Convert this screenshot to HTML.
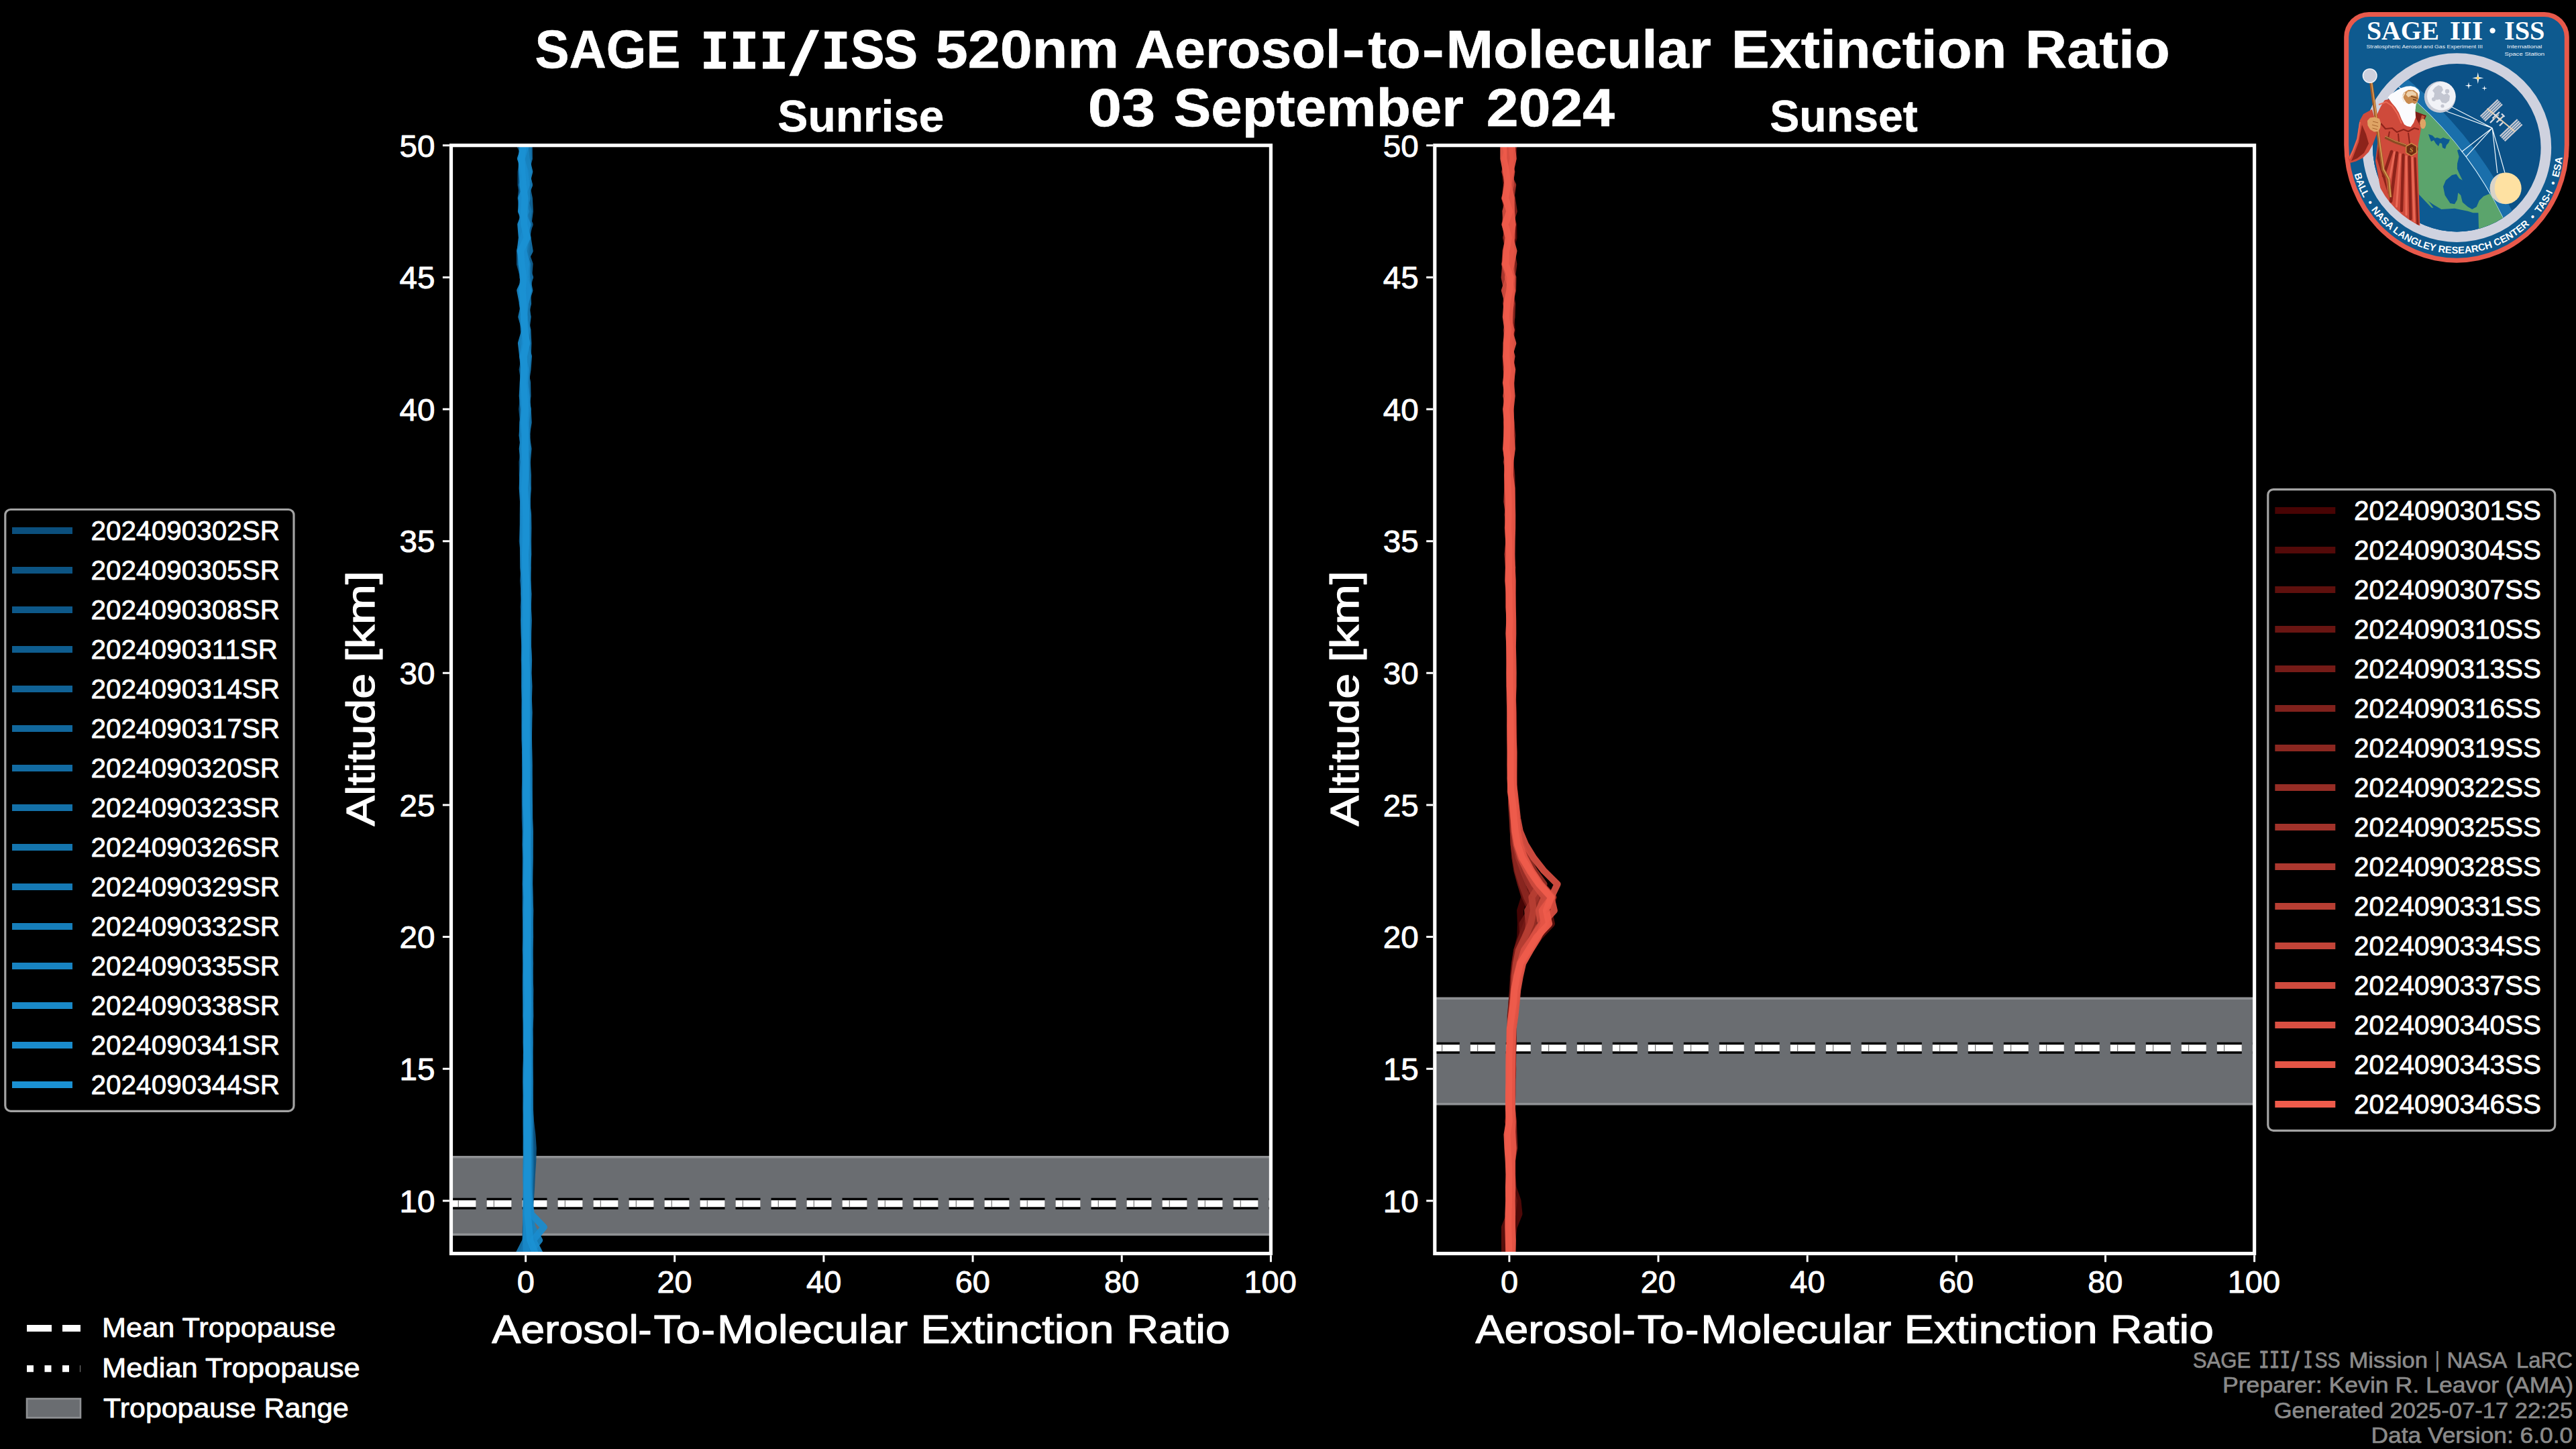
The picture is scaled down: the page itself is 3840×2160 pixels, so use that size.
<!DOCTYPE html>
<html lang="en"><head><meta charset="utf-8"><title>SAGE III/ISS 520nm Aerosol-to-Molecular Extinction Ratio</title>
<style>html,body{margin:0;padding:0;background:#000;width:3840px;height:2160px;overflow:hidden}svg{display:block}</style>
</head><body>
<svg width="3840" height="2160" viewBox="0 0 3840 2160">
<rect width="3840" height="2160" fill="#000"/>
<defs>
<clipPath id="c1"><rect x="672.5" y="216.7" width="1221.9" height="1651.9"/></clipPath>
<clipPath id="c2"><rect x="2138.8" y="216.7" width="1221.8" height="1651.9"/></clipPath>
</defs>
<g clip-path="url(#c1)">
<rect x="672.5" y="1724.8" width="1221.9" height="115.5" fill="#6a6d71"/>
<path d="M672.5 1724.8H1894.4M672.5 1840.3H1894.4" stroke="#8f9194" stroke-width="3.4" fill="none"/>
<path d="M672.5 1794.3H1894.4" stroke="#000" stroke-width="17" stroke-dasharray="37 16" fill="none"/>
<path d="M672.5 1794.3H1894.4" stroke="#fff" stroke-width="10" stroke-dasharray="37 16" fill="none"/>
<path d="M682.7 1794.3H1894.4" stroke="#777" stroke-width="10" stroke-dasharray="1.2 51.8" fill="none"/>
<g fill="none" stroke-width="10" stroke-linejoin="round" stroke-linecap="butt" stroke-opacity="0.93"><path d="M785.9 1868.6L785.0 1848.9L784.9 1829.3L785.1 1809.6L785.3 1789.9L785.6 1770.3L785.8 1750.6L785.6 1730.9L785.6 1711.3L786.1 1691.6L786.1 1671.9L786.3 1652.3L786.6 1632.6L786.1 1612.9L786.1 1593.3L786.2 1573.6L786.2 1554.0L785.4 1534.3L786.2 1514.6L786.1 1495.0L785.9 1475.3L785.8 1455.6L785.1 1436.0L785.2 1416.3L784.9 1396.6L785.6 1377.0L785.0 1357.3L784.9 1337.6L785.0 1318.0L785.0 1298.3L785.2 1278.6L784.7 1259.0L784.5 1239.3L784.7 1219.6L784.8 1200.0L785.1 1180.3L784.5 1160.6L785.5 1141.0L785.0 1121.3L784.3 1101.6L784.4 1082.0L784.4 1062.3L784.2 1042.7L783.6 1023.0L784.4 1003.3L784.5 983.7L783.8 964.0L783.7 944.3L782.8 924.7L782.8 905.0L782.9 885.3L782.8 865.7L783.9 846.0L782.2 826.3L781.9 806.7L784.3 787.0L783.2 767.3L781.7 747.7L782.8 728.0L780.9 708.3L782.6 688.7L784.4 669.0L783.7 649.3L783.0 629.7L781.2 610.0L781.5 590.3L780.5 570.7L782.9 551.0L781.8 531.3L783.3 511.7L780.5 492.0L779.6 472.4L783.4 452.7L786.6 433.0L785.1 413.4L784.5 393.7L784.7 374.0L783.8 354.4L778.3 334.7L781.7 315.0L780.1 295.4L776.5 275.7L776.6 256.0L779.3 236.4L779.3 216.7" stroke="#0b4f7d"/>
<path d="M789.0 1868.6L788.8 1848.9L789.6 1829.3L789.8 1809.6L790.7 1789.9L792.1 1770.3L793.0 1750.6L794.3 1730.9L794.8 1711.3L793.4 1691.6L791.1 1671.9L789.9 1652.3L789.3 1632.6L788.5 1612.9L788.8 1593.3L788.5 1573.6L789.0 1554.0L789.3 1534.3L789.5 1514.6L788.4 1495.0L788.8 1475.3L788.5 1455.6L788.0 1436.0L789.0 1416.3L788.9 1396.6L788.2 1377.0L789.0 1357.3L788.2 1337.6L788.3 1318.0L788.9 1298.3L788.4 1278.6L787.3 1259.0L787.8 1239.3L787.9 1219.6L787.7 1200.0L787.4 1180.3L787.3 1160.6L787.9 1141.0L787.0 1121.3L787.2 1101.6L786.8 1082.0L786.2 1062.3L786.4 1042.7L786.7 1023.0L786.5 1003.3L785.7 983.7L786.5 964.0L786.3 944.3L786.4 924.7L784.8 905.0L784.9 885.3L784.3 865.7L785.8 846.0L784.7 826.3L784.2 806.7L784.9 787.0L786.2 767.3L785.8 747.7L783.9 728.0L783.4 708.3L785.8 688.7L784.5 669.0L784.8 649.3L782.2 629.7L781.9 610.0L784.8 590.3L783.4 570.7L781.9 551.0L786.7 531.3L784.8 511.7L785.9 492.0L781.2 472.4L786.3 452.7L779.2 433.0L788.1 413.4L783.6 393.7L782.4 374.0L784.8 354.4L789.0 334.7L781.7 315.0L780.2 295.4L784.6 275.7L781.3 256.0L780.1 236.4L780.6 216.7" stroke="#0c5483"/>
<path d="M783.3 1848.9L783.8 1829.3L785.0 1809.6L786.0 1789.9L789.2 1770.3L791.1 1750.6L792.4 1730.9L792.3 1711.3L790.5 1691.6L788.0 1671.9L785.8 1652.3L785.7 1632.6L784.9 1612.9L784.8 1593.3L784.9 1573.6L784.9 1554.0L784.3 1534.3L784.9 1514.6L784.2 1495.0L783.8 1475.3L783.8 1455.6L784.4 1436.0L783.7 1416.3L784.1 1396.6L784.1 1377.0L783.6 1357.3L783.5 1337.6L783.6 1318.0L783.7 1298.3L783.7 1278.6L783.4 1259.0L783.4 1239.3L782.7 1219.6L782.7 1200.0L782.6 1180.3L783.2 1160.6L782.9 1141.0L783.2 1121.3L782.2 1101.6L782.2 1082.0L782.2 1062.3L782.6 1042.7L782.4 1023.0L782.3 1003.3L781.7 983.7L782.0 964.0L781.7 944.3L781.6 924.7L780.6 905.0L781.7 885.3L780.0 865.7L781.7 846.0L781.3 826.3L778.7 806.7L779.7 787.0L780.8 767.3L781.2 747.7L779.5 728.0L778.8 708.3L778.5 688.7L781.3 669.0L778.5 649.3L780.1 629.7L778.2 610.0L780.1 590.3L782.0 570.7L778.6 551.0L782.5 531.3L780.3 511.7L782.9 492.0L781.8 472.4L778.6 452.7L784.9 433.0L780.3 413.4L775.0 393.7L774.8 374.0L780.3 354.4L779.8 334.7L778.3 315.0L776.6 295.4L778.8 275.7L778.7 256.0L784.5 236.4L775.1 216.7" stroke="#0d5889"/>
<path d="M789.6 1868.6L789.2 1848.9L789.2 1829.3L789.3 1809.6L788.4 1789.9L788.2 1770.3L788.3 1750.6L788.7 1730.9L789.1 1711.3L789.1 1691.6L788.8 1671.9L788.8 1652.3L789.1 1632.6L788.9 1612.9L789.1 1593.3L788.8 1573.6L789.6 1554.0L789.0 1534.3L789.7 1514.6L789.3 1495.0L789.0 1475.3L788.8 1455.6L789.1 1436.0L789.6 1416.3L789.4 1396.6L788.5 1377.0L788.4 1357.3L788.7 1337.6L788.6 1318.0L788.2 1298.3L787.9 1278.6L788.2 1259.0L787.7 1239.3L787.8 1219.6L787.9 1200.0L788.2 1180.3L787.7 1160.6L787.9 1141.0L787.3 1121.3L786.7 1101.6L786.6 1082.0L787.4 1062.3L787.1 1042.7L786.5 1023.0L786.1 1003.3L786.5 983.7L786.6 964.0L786.1 944.3L785.6 924.7L786.0 905.0L786.4 885.3L784.9 865.7L784.3 846.0L784.9 826.3L784.8 806.7L785.6 787.0L784.2 767.3L785.7 747.7L785.3 728.0L784.4 708.3L783.3 688.7L786.1 669.0L783.4 649.3L785.5 629.7L783.2 610.0L783.1 590.3L785.6 570.7L783.5 551.0L787.5 531.3L784.3 511.7L782.2 492.0L782.3 472.4L783.6 452.7L786.0 433.0L789.4 413.4L780.7 393.7L783.6 374.0L781.3 354.4L789.7 334.7L780.6 315.0L779.6 295.4L779.6 275.7L783.4 256.0L789.0 236.4L788.8 216.7" stroke="#0e5d8f"/>
<path d="M785.8 1868.6L793.6 1848.9L788.6 1829.3L788.2 1809.6L788.5 1789.9L788.3 1770.3L788.5 1750.6L788.0 1730.9L788.3 1711.3L788.4 1691.6L788.3 1671.9L789.0 1652.3L788.7 1632.6L788.5 1612.9L788.8 1593.3L789.4 1573.6L788.6 1554.0L788.5 1534.3L788.8 1514.6L788.7 1495.0L789.2 1475.3L788.1 1455.6L788.3 1436.0L788.5 1416.3L788.5 1396.6L788.7 1377.0L787.7 1357.3L787.9 1337.6L787.9 1318.0L787.9 1298.3L788.5 1278.6L788.3 1259.0L788.6 1239.3L787.7 1219.6L788.1 1200.0L787.6 1180.3L787.4 1160.6L787.8 1141.0L787.8 1121.3L786.9 1101.6L787.3 1082.0L787.3 1062.3L786.6 1042.7L786.6 1023.0L786.1 1003.3L786.2 983.7L786.3 964.0L786.5 944.3L786.4 924.7L785.6 905.0L785.2 885.3L785.7 865.7L786.2 846.0L784.9 826.3L785.0 806.7L784.8 787.0L786.6 767.3L785.7 747.7L783.8 728.0L783.5 708.3L784.4 688.7L785.1 669.0L785.2 649.3L782.8 629.7L783.0 610.0L785.4 590.3L783.9 570.7L783.1 551.0L782.7 531.3L786.9 511.7L782.7 492.0L784.6 472.4L783.4 452.7L783.4 433.0L788.1 413.4L789.6 393.7L782.7 374.0L780.8 354.4L786.8 334.7L781.0 315.0L778.9 295.4L788.9 275.7L783.7 256.0L788.0 236.4L783.4 216.7" stroke="#106296"/>
<path d="M789.8 1868.6L789.0 1848.9L789.3 1829.3L789.9 1809.6L789.3 1789.9L790.2 1770.3L789.3 1750.6L789.9 1730.9L789.5 1711.3L790.1 1691.6L790.5 1671.9L789.6 1652.3L789.9 1632.6L790.1 1612.9L789.8 1593.3L789.6 1573.6L789.9 1554.0L789.6 1534.3L790.4 1514.6L790.1 1495.0L790.4 1475.3L789.5 1455.6L790.1 1436.0L789.3 1416.3L789.7 1396.6L789.7 1377.0L789.4 1357.3L789.7 1337.6L789.2 1318.0L789.0 1298.3L789.5 1278.6L788.6 1259.0L789.4 1239.3L788.9 1219.6L788.5 1200.0L788.6 1180.3L788.0 1160.6L788.7 1141.0L788.2 1121.3L787.8 1101.6L788.2 1082.0L787.8 1062.3L787.4 1042.7L787.9 1023.0L786.9 1003.3L787.8 983.7L787.0 964.0L787.2 944.3L787.7 924.7L786.9 905.0L787.1 885.3L786.1 865.7L785.3 846.0L785.2 826.3L785.4 806.7L786.4 787.0L785.8 767.3L785.8 747.7L786.8 728.0L784.0 708.3L784.1 688.7L785.7 669.0L783.0 649.3L782.7 629.7L784.3 610.0L783.0 590.3L784.1 570.7L783.6 551.0L785.5 531.3L785.4 511.7L782.9 492.0L785.8 472.4L785.0 452.7L781.1 433.0L790.1 413.4L782.6 393.7L781.7 374.0L781.2 354.4L787.3 334.7L789.9 315.0L788.9 295.4L784.8 275.7L783.5 256.0L780.6 236.4L787.8 216.7" stroke="#11679c"/>
<path d="M779.1 1868.6L785.8 1848.9L790.2 1829.3L788.0 1809.6L787.8 1789.9L787.7 1770.3L786.9 1750.6L786.9 1730.9L787.2 1711.3L787.1 1691.6L787.9 1671.9L787.9 1652.3L787.7 1632.6L787.7 1612.9L787.7 1593.3L787.4 1573.6L787.1 1554.0L787.0 1534.3L787.9 1514.6L787.3 1495.0L787.4 1475.3L787.5 1455.6L786.9 1436.0L787.2 1416.3L787.1 1396.6L787.5 1377.0L787.1 1357.3L786.8 1337.6L787.5 1318.0L787.0 1298.3L787.6 1278.6L787.2 1259.0L786.2 1239.3L786.6 1219.6L786.4 1200.0L786.7 1180.3L786.2 1160.6L786.6 1141.0L786.4 1121.3L786.2 1101.6L786.7 1082.0L785.8 1062.3L786.3 1042.7L785.3 1023.0L784.8 1003.3L785.1 983.7L785.7 964.0L785.9 944.3L784.3 924.7L785.1 905.0L785.0 885.3L785.4 865.7L783.9 846.0L784.6 826.3L784.0 806.7L785.4 787.0L783.9 767.3L786.0 747.7L783.7 728.0L783.3 708.3L784.9 688.7L784.1 669.0L782.3 649.3L784.6 629.7L782.2 610.0L785.1 590.3L784.7 570.7L784.9 551.0L784.5 531.3L782.5 511.7L782.6 492.0L782.4 472.4L785.7 452.7L778.4 433.0L787.2 413.4L777.4 393.7L779.2 374.0L780.0 354.4L787.2 334.7L782.8 315.0L781.6 295.4L787.0 275.7L779.9 256.0L782.5 236.4L783.5 216.7" stroke="#126ba2"/>
<path d="M789.1 1868.6L788.8 1848.9L789.0 1829.3L789.2 1809.6L788.8 1789.9L788.8 1770.3L789.3 1750.6L788.6 1730.9L789.1 1711.3L788.8 1691.6L789.1 1671.9L788.2 1652.3L789.1 1632.6L788.4 1612.9L788.0 1593.3L788.0 1573.6L788.3 1554.0L788.0 1534.3L788.4 1514.6L788.4 1495.0L788.5 1475.3L788.1 1455.6L788.3 1436.0L788.4 1416.3L789.0 1396.6L789.2 1377.0L788.7 1357.3L788.4 1337.6L789.0 1318.0L788.3 1298.3L788.0 1278.6L787.7 1259.0L788.2 1239.3L788.3 1219.6L788.1 1200.0L787.6 1180.3L787.6 1160.6L787.0 1141.0L787.6 1121.3L786.9 1101.6L787.0 1082.0L787.3 1062.3L787.4 1042.7L786.9 1023.0L786.8 1003.3L787.0 983.7L786.3 964.0L786.8 944.3L786.2 924.7L787.0 905.0L785.9 885.3L786.1 865.7L785.8 846.0L786.1 826.3L785.3 806.7L784.5 787.0L786.4 767.3L784.9 747.7L784.5 728.0L784.5 708.3L785.2 688.7L784.8 669.0L785.5 649.3L785.4 629.7L784.1 610.0L786.5 590.3L786.1 570.7L782.5 551.0L786.7 531.3L787.4 511.7L786.5 492.0L782.4 472.4L787.1 452.7L786.2 433.0L779.3 413.4L779.4 393.7L789.7 374.0L786.5 354.4L781.9 334.7L780.3 315.0L780.9 295.4L781.9 275.7L787.6 256.0L783.0 236.4L780.8 216.7" stroke="#1370a8"/>
<path d="M790.3 1848.9L790.9 1829.3L790.1 1809.6L790.0 1789.9L789.7 1770.3L790.4 1750.6L790.4 1730.9L790.1 1711.3L789.6 1691.6L790.1 1671.9L790.0 1652.3L789.7 1632.6L789.3 1612.9L789.4 1593.3L789.2 1573.6L789.2 1554.0L789.3 1534.3L789.6 1514.6L790.1 1495.0L789.2 1475.3L789.8 1455.6L789.2 1436.0L789.5 1416.3L790.1 1396.6L789.9 1377.0L790.3 1357.3L789.4 1337.6L789.1 1318.0L789.5 1298.3L789.8 1278.6L790.0 1259.0L790.0 1239.3L789.2 1219.6L789.1 1200.0L788.7 1180.3L788.9 1160.6L788.5 1141.0L788.3 1121.3L788.0 1101.6L788.1 1082.0L788.7 1062.3L787.9 1042.7L788.5 1023.0L787.6 1003.3L788.1 983.7L787.1 964.0L786.9 944.3L787.5 924.7L786.8 905.0L787.5 885.3L786.3 865.7L785.9 846.0L787.3 826.3L787.1 806.7L787.4 787.0L787.1 767.3L784.9 747.7L786.7 728.0L786.9 708.3L785.8 688.7L787.5 669.0L784.6 649.3L787.7 629.7L786.7 610.0L783.4 590.3L783.5 570.7L786.5 551.0L788.0 531.3L782.8 511.7L784.2 492.0L786.7 472.4L782.9 452.7L789.4 433.0L785.3 413.4L780.6 393.7L784.0 374.0L786.4 354.4L785.1 334.7L787.7 315.0L781.7 295.4L789.0 275.7L784.3 256.0L787.6 236.4L787.5 216.7" stroke="#1475ae"/>
<path d="M773.6 1868.6L783.6 1848.9L786.9 1829.3L786.8 1809.6L786.7 1789.9L786.7 1770.3L786.7 1750.6L787.4 1730.9L787.9 1711.3L787.4 1691.6L787.9 1671.9L787.9 1652.3L786.7 1632.6L787.0 1612.9L786.7 1593.3L786.3 1573.6L787.4 1554.0L786.7 1534.3L786.8 1514.6L787.0 1495.0L787.3 1475.3L787.0 1455.6L786.6 1436.0L786.5 1416.3L786.3 1396.6L787.4 1377.0L787.5 1357.3L786.8 1337.6L786.5 1318.0L786.5 1298.3L786.5 1278.6L787.2 1259.0L786.9 1239.3L786.7 1219.6L785.7 1200.0L786.3 1180.3L786.2 1160.6L785.9 1141.0L786.1 1121.3L784.8 1101.6L784.5 1082.0L785.2 1062.3L785.5 1042.7L785.1 1023.0L784.3 1003.3L784.7 983.7L784.8 964.0L783.7 944.3L783.9 924.7L783.7 905.0L783.3 885.3L783.9 865.7L783.2 846.0L783.3 826.3L782.7 806.7L783.8 787.0L781.6 767.3L783.8 747.7L781.9 728.0L781.1 708.3L784.2 688.7L781.4 669.0L783.9 649.3L783.5 629.7L783.8 610.0L780.4 590.3L781.6 570.7L780.2 551.0L785.0 531.3L784.5 511.7L783.0 492.0L781.8 472.4L781.1 452.7L785.6 433.0L781.6 413.4L783.5 393.7L778.4 374.0L779.1 354.4L777.3 334.7L784.7 315.0L783.0 295.4L778.3 275.7L786.6 256.0L779.9 236.4L781.7 216.7" stroke="#1579b4"/>
<path d="M785.5 1868.6L784.7 1848.9L784.5 1829.3L784.4 1809.6L784.6 1789.9L785.1 1770.3L784.5 1750.6L784.6 1730.9L785.7 1711.3L784.9 1691.6L784.7 1671.9L785.3 1652.3L785.1 1632.6L785.1 1612.9L785.3 1593.3L784.8 1573.6L785.5 1554.0L785.5 1534.3L784.7 1514.6L784.5 1495.0L784.6 1475.3L784.5 1455.6L784.4 1436.0L784.2 1416.3L784.3 1396.6L784.2 1377.0L784.6 1357.3L784.9 1337.6L783.8 1318.0L784.3 1298.3L784.5 1278.6L783.8 1259.0L784.5 1239.3L784.5 1219.6L783.5 1200.0L783.5 1180.3L783.9 1160.6L783.4 1141.0L782.9 1121.3L783.5 1101.6L783.2 1082.0L782.8 1062.3L782.7 1042.7L782.5 1023.0L782.3 1003.3L783.0 983.7L782.8 964.0L783.0 944.3L782.7 924.7L782.8 905.0L781.2 885.3L782.2 865.7L783.2 846.0L783.0 826.3L780.9 806.7L781.3 787.0L781.9 767.3L781.2 747.7L781.5 728.0L779.6 708.3L780.8 688.7L781.1 669.0L778.8 649.3L779.2 629.7L782.8 610.0L781.6 590.3L782.4 570.7L781.1 551.0L782.5 531.3L782.9 511.7L782.8 492.0L777.3 472.4L781.6 452.7L777.9 433.0L782.6 413.4L778.1 393.7L781.2 374.0L785.3 354.4L782.2 334.7L778.2 315.0L781.3 295.4L780.3 275.7L786.2 256.0L778.7 236.4L778.7 216.7" stroke="#167eba"/>
<path d="M787.5 1868.6L804.1 1848.9L793.6 1829.3L789.1 1809.6L787.3 1789.9L788.0 1770.3L788.1 1750.6L788.2 1730.9L787.6 1711.3L788.0 1691.6L788.6 1671.9L787.7 1652.3L787.8 1632.6L788.4 1612.9L788.3 1593.3L788.8 1573.6L788.5 1554.0L788.1 1534.3L788.5 1514.6L787.9 1495.0L787.7 1475.3L787.9 1455.6L787.6 1436.0L787.5 1416.3L787.7 1396.6L787.4 1377.0L787.9 1357.3L787.8 1337.6L787.6 1318.0L787.3 1298.3L787.5 1278.6L787.3 1259.0L787.4 1239.3L787.4 1219.6L787.6 1200.0L787.4 1180.3L786.8 1160.6L786.7 1141.0L786.6 1121.3L786.9 1101.6L786.1 1082.0L786.3 1062.3L786.3 1042.7L785.5 1023.0L785.6 1003.3L786.2 983.7L786.0 964.0L785.7 944.3L785.1 924.7L786.3 905.0L785.9 885.3L786.3 865.7L786.7 846.0L786.3 826.3L785.0 806.7L784.3 787.0L784.7 767.3L785.2 747.7L785.1 728.0L783.7 708.3L783.5 688.7L785.0 669.0L784.7 649.3L783.8 629.7L786.5 610.0L784.8 590.3L782.3 570.7L784.0 551.0L786.2 531.3L782.9 511.7L785.5 492.0L780.8 472.4L783.0 452.7L788.0 433.0L785.1 413.4L786.0 393.7L780.6 374.0L783.9 354.4L784.6 334.7L781.4 315.0L785.6 295.4L784.2 275.7L789.3 256.0L784.6 236.4L782.7 216.7" stroke="#1883c1"/>
<path d="M784.5 1868.6L784.3 1848.9L784.9 1829.3L784.1 1809.6L784.5 1789.9L784.6 1770.3L784.4 1750.6L784.9 1730.9L784.6 1711.3L784.7 1691.6L784.7 1671.9L784.4 1652.3L784.5 1632.6L784.2 1612.9L784.4 1593.3L785.1 1573.6L784.6 1554.0L785.0 1534.3L784.3 1514.6L784.8 1495.0L784.6 1475.3L784.7 1455.6L784.6 1436.0L784.5 1416.3L784.8 1396.6L784.6 1377.0L784.5 1357.3L785.0 1337.6L784.7 1318.0L784.6 1298.3L785.2 1278.6L785.2 1259.0L784.9 1239.3L784.6 1219.6L783.9 1200.0L783.8 1180.3L783.4 1160.6L784.0 1141.0L783.7 1121.3L783.0 1101.6L782.9 1082.0L783.0 1062.3L783.0 1042.7L782.4 1023.0L782.8 1003.3L782.2 983.7L782.4 964.0L781.6 944.3L781.1 924.7L782.1 905.0L781.9 885.3L781.8 865.7L780.2 846.0L780.0 826.3L779.9 806.7L779.8 787.0L779.8 767.3L780.0 747.7L778.7 728.0L779.4 708.3L780.5 688.7L778.7 669.0L781.2 649.3L780.1 629.7L780.7 610.0L778.7 590.3L779.7 570.7L781.0 551.0L779.2 531.3L776.9 511.7L782.5 492.0L782.1 472.4L779.1 452.7L775.3 433.0L784.6 413.4L781.9 393.7L775.5 374.0L777.8 354.4L776.2 334.7L783.7 315.0L777.1 295.4L785.2 275.7L783.4 256.0L775.9 236.4L782.6 216.7" stroke="#1988c7"/>
<path d="M804.7 1868.6L794.7 1848.9L810.8 1829.3L791.9 1809.6L789.1 1789.9L787.2 1770.3L787.2 1750.6L786.5 1730.9L786.6 1711.3L787.3 1691.6L786.5 1671.9L786.5 1652.3L786.8 1632.6L786.8 1612.9L787.2 1593.3L786.5 1573.6L786.1 1554.0L786.5 1534.3L786.6 1514.6L786.6 1495.0L786.5 1475.3L786.5 1455.6L786.5 1436.0L786.1 1416.3L786.0 1396.6L785.4 1377.0L785.4 1357.3L785.7 1337.6L785.3 1318.0L786.1 1298.3L785.4 1278.6L785.8 1259.0L786.2 1239.3L785.2 1219.6L785.1 1200.0L785.4 1180.3L785.0 1160.6L785.6 1141.0L784.7 1121.3L785.5 1101.6L785.5 1082.0L785.1 1062.3L784.7 1042.7L784.6 1023.0L784.7 1003.3L784.4 983.7L784.2 964.0L783.9 944.3L783.6 924.7L783.8 905.0L783.9 885.3L784.1 865.7L782.3 846.0L782.3 826.3L782.5 806.7L782.6 787.0L781.7 767.3L781.1 747.7L780.5 728.0L781.0 708.3L781.6 688.7L783.7 669.0L783.3 649.3L783.4 629.7L784.0 610.0L784.0 590.3L782.5 570.7L783.4 551.0L779.1 531.3L783.1 511.7L782.8 492.0L780.7 472.4L782.8 452.7L787.2 433.0L782.0 413.4L784.1 393.7L780.2 374.0L780.4 354.4L786.4 334.7L776.9 315.0L778.5 295.4L784.0 275.7L781.7 256.0L777.6 236.4L784.0 216.7" stroke="#1a8ccd"/>
<path d="M798.0 1868.6L790.2 1848.9L788.6 1829.3L786.5 1809.6L786.4 1789.9L785.5 1770.3L785.8 1750.6L786.5 1730.9L786.4 1711.3L786.1 1691.6L786.1 1671.9L785.6 1652.3L786.3 1632.6L785.9 1612.9L786.5 1593.3L786.2 1573.6L785.7 1554.0L786.0 1534.3L785.8 1514.6L786.7 1495.0L786.5 1475.3L785.7 1455.6L785.9 1436.0L786.2 1416.3L786.2 1396.6L786.6 1377.0L786.4 1357.3L786.3 1337.6L785.7 1318.0L786.3 1298.3L785.8 1278.6L785.4 1259.0L785.6 1239.3L785.8 1219.6L784.8 1200.0L784.6 1180.3L785.0 1160.6L784.6 1141.0L784.3 1121.3L784.6 1101.6L784.1 1082.0L784.6 1062.3L784.4 1042.7L785.0 1023.0L785.1 1003.3L783.8 983.7L784.5 964.0L784.6 944.3L784.9 924.7L784.8 905.0L784.5 885.3L784.3 865.7L783.4 846.0L783.1 826.3L784.3 806.7L784.5 787.0L784.4 767.3L783.5 747.7L782.1 728.0L783.5 708.3L783.5 688.7L782.3 669.0L782.8 649.3L781.5 629.7L782.4 610.0L781.7 590.3L780.1 570.7L781.3 551.0L780.8 531.3L785.3 511.7L781.7 492.0L780.9 472.4L780.2 452.7L778.8 433.0L780.2 413.4L777.6 393.7L776.2 374.0L785.8 354.4L781.2 334.7L781.2 315.0L782.5 295.4L779.6 275.7L778.3 256.0L777.4 236.4L780.0 216.7" stroke="#1b91d3"/></g>
</g>
<g clip-path="url(#c2)">
<rect x="2138.8" y="1488.3" width="1221.8" height="157.5" fill="#6a6d71"/>
<path d="M2138.8 1488.3H3360.6M2138.8 1645.8H3360.6" stroke="#8f9194" stroke-width="3.4" fill="none"/>
<path d="M2138.8 1562.2H3360.6" stroke="#000" stroke-width="17" stroke-dasharray="37 16" fill="none"/>
<path d="M2138.8 1562.2H3360.6" stroke="#fff" stroke-width="10" stroke-dasharray="37 16" fill="none"/>
<path d="M2149.0 1562.2H3360.6" stroke="#777" stroke-width="10" stroke-dasharray="1.2 51.8" fill="none"/>
<g fill="none" stroke-width="10" stroke-linejoin="round" stroke-linecap="butt" stroke-opacity="0.93"><path d="M2250.4 1868.6L2250.8 1848.9L2250.3 1829.3L2250.5 1809.6L2251.2 1789.9L2250.7 1770.3L2251.0 1750.6L2251.2 1730.9L2248.3 1711.3L2252.7 1691.6L2248.5 1671.9L2250.8 1652.3L2251.0 1632.6L2250.3 1612.9L2251.3 1593.3L2251.7 1573.6L2251.7 1554.0L2251.7 1534.3L2252.4 1514.6L2253.4 1495.0L2255.4 1475.3L2255.7 1455.6L2257.8 1436.0L2261.4 1416.3L2266.2 1396.6L2266.9 1377.0L2266.1 1357.3L2272.3 1337.6L2267.2 1318.0L2262.0 1298.3L2258.6 1278.6L2256.7 1259.0L2255.9 1239.3L2255.1 1219.6L2254.2 1200.0L2254.1 1180.3L2253.3 1160.6L2252.8 1141.0L2252.9 1121.3L2252.9 1101.6L2252.3 1082.0L2252.5 1062.3L2252.5 1042.7L2252.5 1023.0L2251.7 1003.3L2251.9 983.7L2252.0 964.0L2251.8 944.3L2251.1 924.7L2251.0 905.0L2250.9 885.3L2249.8 865.7L2249.1 846.0L2248.6 826.3L2250.3 806.7L2249.7 787.0L2250.3 767.3L2247.3 747.7L2248.8 728.0L2248.1 708.3L2248.9 688.7L2247.4 669.0L2249.9 649.3L2246.1 629.7L2248.1 610.0L2248.9 590.3L2249.6 570.7L2249.2 551.0L2249.5 531.3L2250.1 511.7L2251.0 492.0L2247.3 472.4L2249.5 452.7L2252.6 433.0L2252.4 413.4L2247.5 393.7L2251.7 374.0L2252.4 354.4L2249.3 334.7L2250.0 315.0L2247.3 295.4L2249.2 275.7L2249.4 256.0L2243.6 236.4L2249.6 216.7" stroke="#480404"/>
<path d="M2254.0 1868.6L2254.2 1848.9L2256.6 1829.3L2264.5 1809.6L2262.5 1789.9L2255.7 1770.3L2254.5 1750.6L2254.3 1730.9L2254.4 1711.3L2252.5 1691.6L2256.0 1671.9L2253.8 1652.3L2253.9 1632.6L2253.8 1612.9L2254.9 1593.3L2255.2 1573.6L2255.5 1554.0L2255.2 1534.3L2255.8 1514.6L2256.9 1495.0L2259.1 1475.3L2259.8 1455.6L2260.6 1436.0L2262.8 1416.3L2268.1 1396.6L2273.4 1377.0L2279.8 1357.3L2277.8 1337.6L2281.7 1318.0L2274.9 1298.3L2268.4 1278.6L2264.6 1259.0L2260.6 1239.3L2259.1 1219.6L2258.7 1200.0L2257.2 1180.3L2255.8 1160.6L2256.3 1141.0L2256.6 1121.3L2256.5 1101.6L2256.1 1082.0L2256.2 1062.3L2255.4 1042.7L2255.4 1023.0L2254.7 1003.3L2254.9 983.7L2254.8 964.0L2254.5 944.3L2255.0 924.7L2254.6 905.0L2254.3 885.3L2254.5 865.7L2253.7 846.0L2252.8 826.3L2252.4 806.7L2253.6 787.0L2253.6 767.3L2251.4 747.7L2252.9 728.0L2253.3 708.3L2251.6 688.7L2251.8 669.0L2250.4 649.3L2251.8 629.7L2251.9 610.0L2252.5 590.3L2250.0 570.7L2254.1 551.0L2252.0 531.3L2251.2 511.7L2253.9 492.0L2252.6 472.4L2252.0 452.7L2254.0 433.0L2247.3 413.4L2252.3 393.7L2250.9 374.0L2256.5 354.4L2256.2 334.7L2249.3 315.0L2251.6 295.4L2248.2 275.7L2251.4 256.0L2255.6 236.4L2256.5 216.7" stroke="#530a09"/>
<path d="M2243.1 1868.6L2243.0 1848.9L2243.0 1829.3L2250.8 1809.6L2250.4 1789.9L2250.2 1770.3L2250.3 1750.6L2250.3 1730.9L2252.6 1711.3L2252.5 1691.6L2252.2 1671.9L2250.8 1652.3L2250.3 1632.6L2251.0 1612.9L2251.5 1593.3L2251.6 1573.6L2252.1 1554.0L2252.5 1534.3L2255.0 1514.6L2258.4 1495.0L2259.8 1475.3L2263.3 1455.6L2269.1 1436.0L2281.2 1416.3L2294.6 1396.6L2313.0 1377.0L2308.8 1357.3L2315.8 1337.6L2298.0 1318.0L2283.5 1298.3L2271.7 1278.6L2264.5 1259.0L2260.6 1239.3L2258.7 1219.6L2256.5 1200.0L2254.0 1180.3L2253.5 1160.6L2253.7 1141.0L2253.7 1121.3L2253.6 1101.6L2252.5 1082.0L2252.6 1062.3L2252.3 1042.7L2251.7 1023.0L2251.9 1003.3L2251.4 983.7L2251.2 964.0L2251.3 944.3L2250.6 924.7L2250.6 905.0L2251.5 885.3L2250.7 865.7L2250.3 846.0L2251.0 826.3L2249.8 806.7L2250.9 787.0L2249.7 767.3L2249.9 747.7L2247.1 728.0L2248.6 708.3L2248.9 688.7L2246.3 669.0L2249.8 649.3L2246.9 629.7L2248.1 610.0L2246.8 590.3L2248.5 570.7L2249.1 551.0L2245.9 531.3L2251.4 511.7L2248.1 492.0L2248.9 472.4L2249.4 452.7L2247.5 433.0L2246.4 413.4L2250.2 393.7L2249.2 374.0L2246.3 354.4L2251.0 334.7L2246.5 315.0L2243.5 295.4L2245.7 275.7L2243.5 256.0L2244.8 236.4L2250.9 216.7" stroke="#5e100d"/>
<path d="M2251.1 1868.6L2250.3 1848.9L2250.6 1829.3L2254.6 1809.6L2256.8 1789.9L2252.1 1770.3L2251.0 1750.6L2250.9 1730.9L2248.5 1711.3L2251.7 1691.6L2248.1 1671.9L2250.7 1652.3L2250.5 1632.6L2251.0 1612.9L2251.3 1593.3L2251.6 1573.6L2251.2 1554.0L2253.0 1534.3L2253.9 1514.6L2255.3 1495.0L2257.1 1475.3L2260.5 1455.6L2266.4 1436.0L2272.0 1416.3L2270.3 1396.6L2269.5 1377.0L2282.0 1357.3L2273.4 1337.6L2266.8 1318.0L2261.4 1298.3L2258.3 1278.6L2256.9 1259.0L2255.7 1239.3L2255.1 1219.6L2253.3 1200.0L2252.8 1180.3L2253.3 1160.6L2253.4 1141.0L2253.0 1121.3L2252.5 1101.6L2252.9 1082.0L2252.5 1062.3L2252.2 1042.7L2252.4 1023.0L2251.7 1003.3L2251.6 983.7L2250.5 964.0L2250.8 944.3L2250.7 924.7L2249.3 905.0L2249.2 885.3L2250.1 865.7L2250.2 846.0L2247.9 826.3L2249.2 806.7L2247.7 787.0L2249.2 767.3L2248.8 747.7L2247.4 728.0L2247.0 708.3L2248.6 688.7L2247.9 669.0L2249.0 649.3L2247.6 629.7L2247.3 610.0L2249.9 590.3L2248.6 570.7L2247.9 551.0L2248.2 531.3L2249.5 511.7L2249.5 492.0L2250.6 472.4L2247.6 452.7L2251.8 433.0L2250.1 413.4L2252.1 393.7L2251.4 374.0L2251.7 354.4L2252.4 334.7L2253.1 315.0L2249.5 295.4L2248.3 275.7L2250.2 256.0L2251.1 236.4L2247.1 216.7" stroke="#691512"/>
<path d="M2249.7 1868.6L2250.1 1848.9L2250.1 1829.3L2250.1 1809.6L2249.7 1789.9L2250.2 1770.3L2249.8 1750.6L2250.0 1730.9L2252.6 1711.3L2251.0 1691.6L2248.7 1671.9L2250.1 1652.3L2249.8 1632.6L2250.5 1612.9L2250.5 1593.3L2250.4 1573.6L2251.8 1554.0L2251.8 1534.3L2251.6 1514.6L2253.5 1495.0L2255.0 1475.3L2256.4 1455.6L2258.3 1436.0L2261.2 1416.3L2268.3 1396.6L2275.7 1377.0L2282.4 1357.3L2280.1 1337.6L2287.4 1318.0L2277.7 1298.3L2269.4 1278.6L2263.6 1259.0L2259.3 1239.3L2257.5 1219.6L2255.9 1200.0L2255.4 1180.3L2253.0 1160.6L2252.9 1141.0L2252.8 1121.3L2253.3 1101.6L2253.0 1082.0L2252.0 1062.3L2252.0 1042.7L2252.3 1023.0L2252.0 1003.3L2251.1 983.7L2251.0 964.0L2250.6 944.3L2250.1 924.7L2250.2 905.0L2249.4 885.3L2250.8 865.7L2249.5 846.0L2249.6 826.3L2250.0 806.7L2250.1 787.0L2250.1 767.3L2248.4 747.7L2248.0 728.0L2247.9 708.3L2246.5 688.7L2248.0 669.0L2249.3 649.3L2250.4 629.7L2249.5 610.0L2249.0 590.3L2248.7 570.7L2246.0 551.0L2247.0 531.3L2247.2 511.7L2249.3 492.0L2245.9 472.4L2247.7 452.7L2248.6 433.0L2251.4 413.4L2251.8 393.7L2249.5 374.0L2244.9 354.4L2251.2 334.7L2252.8 315.0L2249.0 295.4L2246.9 275.7L2248.4 256.0L2244.5 236.4L2250.4 216.7" stroke="#751b17"/>
<path d="M2253.9 1868.6L2254.5 1848.9L2254.3 1829.3L2253.7 1809.6L2254.0 1789.9L2253.9 1770.3L2253.8 1750.6L2253.7 1730.9L2257.4 1711.3L2256.6 1691.6L2255.9 1671.9L2253.6 1652.3L2254.4 1632.6L2254.5 1612.9L2255.2 1593.3L2254.6 1573.6L2255.9 1554.0L2255.3 1534.3L2257.9 1514.6L2260.1 1495.0L2260.6 1475.3L2263.0 1455.6L2266.7 1436.0L2275.0 1416.3L2283.1 1396.6L2285.3 1377.0L2283.4 1357.3L2297.1 1337.6L2284.9 1318.0L2275.7 1298.3L2267.7 1278.6L2262.7 1259.0L2261.3 1239.3L2259.4 1219.6L2258.3 1200.0L2256.9 1180.3L2256.8 1160.6L2256.3 1141.0L2256.1 1121.3L2256.0 1101.6L2256.2 1082.0L2255.9 1062.3L2254.8 1042.7L2255.3 1023.0L2254.9 1003.3L2254.8 983.7L2254.2 964.0L2254.8 944.3L2254.7 924.7L2253.4 905.0L2253.9 885.3L2253.0 865.7L2254.4 846.0L2252.3 826.3L2252.1 806.7L2253.6 787.0L2252.3 767.3L2254.0 747.7L2253.8 728.0L2253.2 708.3L2251.1 688.7L2253.3 669.0L2254.3 649.3L2252.5 629.7L2250.8 610.0L2251.4 590.3L2251.9 570.7L2253.6 551.0L2250.8 531.3L2250.6 511.7L2251.0 492.0L2253.6 472.4L2254.2 452.7L2251.0 433.0L2254.0 413.4L2256.4 393.7L2253.3 374.0L2249.6 354.4L2250.3 334.7L2256.8 315.0L2253.9 295.4L2249.7 275.7L2253.5 256.0L2247.6 236.4L2257.0 216.7" stroke="#80211c"/>
<path d="M2250.6 1868.6L2249.7 1848.9L2250.1 1829.3L2250.3 1809.6L2250.2 1789.9L2249.9 1770.3L2250.0 1750.6L2250.9 1730.9L2252.2 1711.3L2249.1 1691.6L2249.2 1671.9L2250.7 1652.3L2251.3 1632.6L2250.9 1612.9L2251.4 1593.3L2252.3 1573.6L2252.1 1554.0L2253.3 1534.3L2255.4 1514.6L2256.9 1495.0L2258.3 1475.3L2261.5 1455.6L2268.2 1436.0L2275.3 1416.3L2282.6 1396.6L2280.9 1377.0L2285.7 1357.3L2275.9 1337.6L2268.9 1318.0L2262.7 1298.3L2259.4 1278.6L2256.6 1259.0L2255.8 1239.3L2254.5 1219.6L2253.2 1200.0L2252.9 1180.3L2252.7 1160.6L2252.8 1141.0L2253.1 1121.3L2252.9 1101.6L2252.9 1082.0L2253.1 1062.3L2252.3 1042.7L2252.1 1023.0L2251.2 1003.3L2251.2 983.7L2250.7 964.0L2251.0 944.3L2250.5 924.7L2250.1 905.0L2249.5 885.3L2249.5 865.7L2249.4 846.0L2249.4 826.3L2250.5 806.7L2249.8 787.0L2248.4 767.3L2248.3 747.7L2247.4 728.0L2249.8 708.3L2247.7 688.7L2249.0 669.0L2249.0 649.3L2249.6 629.7L2246.0 610.0L2247.1 590.3L2247.2 570.7L2245.9 551.0L2250.3 531.3L2246.9 511.7L2250.0 492.0L2248.3 472.4L2245.3 452.7L2246.9 433.0L2245.3 413.4L2243.3 393.7L2244.5 374.0L2249.0 354.4L2243.3 334.7L2246.5 315.0L2247.6 295.4L2248.8 275.7L2244.5 256.0L2250.3 236.4L2245.6 216.7" stroke="#8b2720"/>
<path d="M2251.8 1868.6L2251.5 1848.9L2251.9 1829.3L2252.2 1809.6L2252.2 1789.9L2252.4 1770.3L2252.3 1750.6L2252.7 1730.9L2251.9 1711.3L2254.3 1691.6L2253.5 1671.9L2252.5 1652.3L2252.8 1632.6L2253.6 1612.9L2253.9 1593.3L2253.5 1573.6L2254.1 1554.0L2254.2 1534.3L2254.4 1514.6L2256.4 1495.0L2258.4 1475.3L2260.2 1455.6L2262.4 1436.0L2266.3 1416.3L2275.7 1396.6L2285.6 1377.0L2292.0 1357.3L2289.9 1337.6L2301.5 1318.0L2287.2 1298.3L2276.1 1278.6L2267.5 1259.0L2262.5 1239.3L2259.0 1219.6L2258.0 1200.0L2256.9 1180.3L2254.3 1160.6L2254.1 1141.0L2254.8 1121.3L2254.5 1101.6L2253.5 1082.0L2253.3 1062.3L2253.4 1042.7L2253.5 1023.0L2253.1 1003.3L2253.3 983.7L2252.7 964.0L2252.9 944.3L2252.1 924.7L2251.7 905.0L2252.1 885.3L2252.3 865.7L2252.2 846.0L2251.4 826.3L2251.0 806.7L2251.5 787.0L2251.2 767.3L2251.7 747.7L2251.5 728.0L2249.0 708.3L2249.7 688.7L2251.0 669.0L2249.6 649.3L2249.4 629.7L2248.6 610.0L2250.9 590.3L2252.5 570.7L2252.5 551.0L2248.4 531.3L2252.0 511.7L2250.2 492.0L2251.6 472.4L2250.0 452.7L2255.1 433.0L2255.5 413.4L2245.5 393.7L2252.4 374.0L2246.2 354.4L2245.3 334.7L2247.8 315.0L2252.5 295.4L2255.2 275.7L2245.8 256.0L2247.9 236.4L2244.6 216.7" stroke="#962d25"/>
<path d="M2251.1 1868.6L2251.5 1848.9L2251.8 1829.3L2251.2 1809.6L2251.6 1789.9L2251.4 1770.3L2251.5 1750.6L2251.0 1730.9L2248.8 1711.3L2250.6 1691.6L2250.3 1671.9L2250.7 1652.3L2250.5 1632.6L2251.0 1612.9L2251.6 1593.3L2251.2 1573.6L2252.3 1554.0L2252.1 1534.3L2254.2 1514.6L2255.2 1495.0L2257.4 1475.3L2258.9 1455.6L2262.7 1436.0L2269.3 1416.3L2277.1 1396.6L2279.0 1377.0L2277.1 1357.3L2289.6 1337.6L2279.2 1318.0L2271.1 1298.3L2263.8 1278.6L2259.5 1259.0L2257.6 1239.3L2257.1 1219.6L2255.0 1200.0L2253.8 1180.3L2253.7 1160.6L2254.0 1141.0L2253.7 1121.3L2253.9 1101.6L2254.2 1082.0L2253.8 1062.3L2253.5 1042.7L2253.2 1023.0L2252.9 1003.3L2252.1 983.7L2252.7 964.0L2252.2 944.3L2251.5 924.7L2251.6 905.0L2251.1 885.3L2250.6 865.7L2249.9 846.0L2250.2 826.3L2249.8 806.7L2249.5 787.0L2247.7 767.3L2249.3 747.7L2248.8 728.0L2249.3 708.3L2249.2 688.7L2250.6 669.0L2247.8 649.3L2249.0 629.7L2251.4 610.0L2250.5 590.3L2248.7 570.7L2250.7 551.0L2252.6 531.3L2249.1 511.7L2252.0 492.0L2247.3 472.4L2252.6 452.7L2249.3 433.0L2246.6 413.4L2252.8 393.7L2250.7 374.0L2253.7 354.4L2252.5 334.7L2252.2 315.0L2249.1 295.4L2254.2 275.7L2244.3 256.0L2253.0 236.4L2251.1 216.7" stroke="#a1322a"/>
<path d="M2249.8 1868.6L2249.1 1848.9L2249.4 1829.3L2249.3 1809.6L2249.9 1789.9L2250.1 1770.3L2249.8 1750.6L2249.6 1730.9L2251.4 1711.3L2248.2 1691.6L2250.4 1671.9L2249.8 1652.3L2249.7 1632.6L2250.4 1612.9L2250.5 1593.3L2249.8 1573.6L2250.8 1554.0L2250.9 1534.3L2253.3 1514.6L2255.9 1495.0L2257.9 1475.3L2261.0 1455.6L2266.0 1436.0L2277.4 1416.3L2288.8 1396.6L2301.7 1377.0L2297.8 1357.3L2307.2 1337.6L2290.6 1318.0L2278.0 1298.3L2268.4 1278.6L2260.8 1259.0L2258.0 1239.3L2256.2 1219.6L2255.0 1200.0L2251.7 1180.3L2252.2 1160.6L2251.4 1141.0L2251.7 1121.3L2251.0 1101.6L2251.0 1082.0L2251.4 1062.3L2250.6 1042.7L2250.5 1023.0L2250.4 1003.3L2250.4 983.7L2250.3 964.0L2249.6 944.3L2250.1 924.7L2249.9 905.0L2249.7 885.3L2248.1 865.7L2248.8 846.0L2247.6 826.3L2249.4 806.7L2249.4 787.0L2249.1 767.3L2246.4 747.7L2247.2 728.0L2247.4 708.3L2247.2 688.7L2245.6 669.0L2248.3 649.3L2246.3 629.7L2247.4 610.0L2245.6 590.3L2247.6 570.7L2245.7 551.0L2244.7 531.3L2247.5 511.7L2246.1 492.0L2249.1 472.4L2245.8 452.7L2246.5 433.0L2242.6 413.4L2244.3 393.7L2246.8 374.0L2247.7 354.4L2246.9 334.7L2250.9 315.0L2243.0 295.4L2250.9 275.7L2243.4 256.0L2252.0 236.4L2247.1 216.7" stroke="#ac382f"/>
<path d="M2250.7 1868.6L2250.4 1848.9L2250.3 1829.3L2249.6 1809.6L2250.5 1789.9L2250.1 1770.3L2250.5 1750.6L2250.6 1730.9L2248.0 1711.3L2249.7 1691.6L2249.6 1671.9L2250.0 1652.3L2250.1 1632.6L2250.2 1612.9L2250.9 1593.3L2251.7 1573.6L2251.3 1554.0L2251.6 1534.3L2252.9 1514.6L2254.8 1495.0L2256.8 1475.3L2257.7 1455.6L2260.0 1436.0L2263.9 1416.3L2273.3 1396.6L2281.9 1377.0L2286.1 1357.3L2283.3 1337.6L2296.1 1318.0L2283.1 1298.3L2273.6 1278.6L2264.8 1259.0L2260.4 1239.3L2257.4 1219.6L2255.6 1200.0L2254.7 1180.3L2252.4 1160.6L2252.7 1141.0L2252.9 1121.3L2252.3 1101.6L2252.2 1082.0L2251.7 1062.3L2252.1 1042.7L2250.9 1023.0L2251.4 1003.3L2250.7 983.7L2250.7 964.0L2250.2 944.3L2250.3 924.7L2249.8 905.0L2249.9 885.3L2250.2 865.7L2249.8 846.0L2249.4 826.3L2249.6 806.7L2250.0 787.0L2248.6 767.3L2249.1 747.7L2248.5 728.0L2250.0 708.3L2247.4 688.7L2248.5 669.0L2246.7 649.3L2246.8 629.7L2248.8 610.0L2248.3 590.3L2246.9 570.7L2246.0 551.0L2250.0 531.3L2247.0 511.7L2249.3 492.0L2247.6 472.4L2248.8 452.7L2248.8 433.0L2253.3 413.4L2252.8 393.7L2248.0 374.0L2248.2 354.4L2245.5 334.7L2250.8 315.0L2244.1 295.4L2246.2 275.7L2252.2 256.0L2243.5 236.4L2250.2 216.7" stroke="#b73e33"/>
<path d="M2251.8 1868.6L2251.5 1848.9L2251.1 1829.3L2251.5 1809.6L2251.5 1789.9L2251.9 1770.3L2252.0 1750.6L2252.3 1730.9L2254.6 1711.3L2254.6 1691.6L2251.4 1671.9L2252.1 1652.3L2252.1 1632.6L2252.4 1612.9L2252.4 1593.3L2253.1 1573.6L2252.3 1554.0L2252.9 1534.3L2256.0 1514.6L2257.7 1495.0L2259.8 1475.3L2263.5 1455.6L2269.1 1436.0L2280.2 1416.3L2292.9 1396.6L2305.6 1377.0L2301.8 1357.3L2314.6 1337.6L2296.5 1318.0L2282.7 1298.3L2271.8 1278.6L2263.8 1259.0L2260.3 1239.3L2259.3 1219.6L2257.9 1200.0L2254.8 1180.3L2254.4 1160.6L2254.2 1141.0L2254.2 1121.3L2253.7 1101.6L2254.2 1082.0L2253.3 1062.3L2253.4 1042.7L2253.0 1023.0L2252.7 1003.3L2253.0 983.7L2252.5 964.0L2251.9 944.3L2252.4 924.7L2251.1 905.0L2251.0 885.3L2250.7 865.7L2251.1 846.0L2251.6 826.3L2250.2 806.7L2249.9 787.0L2250.7 767.3L2249.3 747.7L2249.6 728.0L2248.6 708.3L2250.5 688.7L2248.1 669.0L2248.2 649.3L2248.4 629.7L2248.4 610.0L2249.8 590.3L2249.6 570.7L2250.4 551.0L2249.3 531.3L2246.6 511.7L2251.0 492.0L2247.9 472.4L2247.4 452.7L2248.4 433.0L2254.2 413.4L2247.8 393.7L2247.6 374.0L2253.6 354.4L2254.5 334.7L2248.1 315.0L2245.3 295.4L2252.2 275.7L2251.8 256.0L2247.1 236.4L2251.8 216.7" stroke="#c24438"/>
<path d="M2250.5 1868.6L2250.6 1848.9L2250.7 1829.3L2249.9 1809.6L2250.4 1789.9L2250.7 1770.3L2250.1 1750.6L2250.2 1730.9L2249.2 1711.3L2248.7 1691.6L2249.7 1671.9L2250.3 1652.3L2251.1 1632.6L2251.1 1612.9L2251.5 1593.3L2251.6 1573.6L2252.3 1554.0L2251.9 1534.3L2254.4 1514.6L2256.1 1495.0L2258.2 1475.3L2260.5 1455.6L2265.3 1436.0L2275.2 1416.3L2285.3 1396.6L2296.8 1377.0L2293.9 1357.3L2302.1 1337.6L2287.3 1318.0L2276.3 1298.3L2266.7 1278.6L2260.9 1259.0L2257.5 1239.3L2256.8 1219.6L2254.6 1200.0L2252.8 1180.3L2252.9 1160.6L2252.6 1141.0L2253.4 1121.3L2252.6 1101.6L2252.2 1082.0L2252.2 1062.3L2252.2 1042.7L2251.6 1023.0L2251.3 1003.3L2251.0 983.7L2251.4 964.0L2251.1 944.3L2250.7 924.7L2250.0 905.0L2249.8 885.3L2250.9 865.7L2250.7 846.0L2251.0 826.3L2250.7 806.7L2249.8 787.0L2249.8 767.3L2249.1 747.7L2249.3 728.0L2249.0 708.3L2246.4 688.7L2248.6 669.0L2246.9 649.3L2246.5 629.7L2249.2 610.0L2245.5 590.3L2247.4 570.7L2246.6 551.0L2249.2 531.3L2248.0 511.7L2249.9 492.0L2250.0 472.4L2248.2 452.7L2242.9 433.0L2249.4 413.4L2243.3 393.7L2252.5 374.0L2251.4 354.4L2245.5 334.7L2244.3 315.0L2249.8 295.4L2250.5 275.7L2253.0 256.0L2249.4 236.4L2244.0 216.7" stroke="#ce4a3d"/>
<path d="M2252.5 1868.6L2253.0 1848.9L2252.8 1829.3L2252.7 1809.6L2252.1 1789.9L2252.8 1770.3L2252.2 1750.6L2251.9 1730.9L2249.5 1711.3L2251.1 1691.6L2250.0 1671.9L2252.6 1652.3L2252.8 1632.6L2252.7 1612.9L2253.2 1593.3L2253.5 1573.6L2254.4 1554.0L2253.8 1534.3L2254.3 1514.6L2257.4 1495.0L2261.2 1475.3L2262.8 1455.6L2266.1 1436.0L2272.0 1416.3L2285.8 1396.6L2298.8 1377.0L2316.9 1357.3L2312.3 1337.6L2321.6 1318.0L2301.7 1298.3L2286.2 1278.6L2274.1 1259.0L2265.8 1239.3L2262.0 1219.6L2259.8 1200.0L2257.6 1180.3L2254.6 1160.6L2254.2 1141.0L2254.4 1121.3L2254.6 1101.6L2254.0 1082.0L2253.7 1062.3L2253.9 1042.7L2253.8 1023.0L2253.7 1003.3L2253.2 983.7L2253.2 964.0L2253.1 944.3L2252.5 924.7L2253.2 905.0L2253.5 885.3L2252.8 865.7L2252.6 846.0L2252.0 826.3L2252.2 806.7L2250.9 787.0L2252.5 767.3L2251.6 747.7L2252.6 728.0L2250.5 708.3L2251.4 688.7L2248.7 669.0L2250.1 649.3L2251.4 629.7L2249.4 610.0L2250.8 590.3L2249.0 570.7L2249.9 551.0L2253.5 531.3L2248.3 511.7L2252.8 492.0L2247.5 472.4L2250.6 452.7L2253.6 433.0L2254.0 413.4L2249.4 393.7L2251.5 374.0L2252.5 354.4L2252.9 334.7L2252.9 315.0L2251.0 295.4L2247.4 275.7L2252.1 256.0L2250.6 236.4L2250.5 216.7" stroke="#d94f42"/>
<path d="M2254.5 1868.6L2254.9 1848.9L2254.0 1829.3L2254.1 1809.6L2253.8 1789.9L2254.4 1770.3L2253.9 1750.6L2254.0 1730.9L2255.7 1711.3L2254.1 1691.6L2254.8 1671.9L2254.0 1652.3L2253.9 1632.6L2253.9 1612.9L2254.3 1593.3L2254.6 1573.6L2254.7 1554.0L2255.5 1534.3L2258.4 1514.6L2260.5 1495.0L2262.3 1475.3L2265.8 1455.6L2270.3 1436.0L2281.5 1416.3L2293.3 1396.6L2301.7 1377.0L2298.7 1357.3L2313.0 1337.6L2296.1 1318.0L2283.0 1298.3L2272.4 1278.6L2265.4 1259.0L2261.9 1239.3L2260.5 1219.6L2258.8 1200.0L2256.1 1180.3L2256.1 1160.6L2256.4 1141.0L2256.5 1121.3L2255.7 1101.6L2255.3 1082.0L2255.1 1062.3L2254.8 1042.7L2255.5 1023.0L2255.7 1003.3L2255.4 983.7L2254.9 964.0L2255.3 944.3L2255.2 924.7L2254.8 905.0L2254.6 885.3L2254.7 865.7L2253.8 846.0L2253.5 826.3L2253.7 806.7L2254.2 787.0L2254.3 767.3L2253.9 747.7L2253.5 728.0L2250.9 708.3L2251.2 688.7L2253.9 669.0L2252.4 649.3L2252.3 629.7L2251.5 610.0L2253.7 590.3L2252.0 570.7L2254.2 551.0L2249.4 531.3L2255.3 511.7L2249.3 492.0L2250.0 472.4L2251.5 452.7L2253.6 433.0L2248.1 413.4L2252.6 393.7L2256.5 374.0L2251.0 354.4L2254.7 334.7L2252.9 315.0L2252.8 295.4L2248.5 275.7L2251.3 256.0L2255.7 236.4L2253.6 216.7" stroke="#e45546"/>
<path d="M2249.3 1868.6L2248.8 1848.9L2248.3 1829.3L2248.4 1809.6L2249.1 1789.9L2248.9 1770.3L2249.5 1750.6L2248.7 1730.9L2247.4 1711.3L2246.5 1691.6L2249.7 1671.9L2248.9 1652.3L2248.9 1632.6L2249.3 1612.9L2249.3 1593.3L2249.5 1573.6L2250.4 1554.0L2250.7 1534.3L2253.1 1514.6L2255.9 1495.0L2257.4 1475.3L2261.2 1455.6L2266.3 1436.0L2278.5 1416.3L2290.7 1396.6L2309.2 1377.0L2304.8 1357.3L2312.0 1337.6L2294.1 1318.0L2280.6 1298.3L2268.9 1278.6L2262.1 1259.0L2258.8 1239.3L2256.7 1219.6L2255.2 1200.0L2252.5 1180.3L2251.5 1160.6L2251.7 1141.0L2251.6 1121.3L2251.8 1101.6L2251.5 1082.0L2251.4 1062.3L2251.4 1042.7L2250.6 1023.0L2250.4 1003.3L2250.6 983.7L2250.3 964.0L2249.5 944.3L2250.3 924.7L2249.6 905.0L2249.8 885.3L2248.7 865.7L2249.0 846.0L2249.6 826.3L2249.1 806.7L2248.1 787.0L2248.6 767.3L2248.7 747.7L2247.9 728.0L2247.2 708.3L2248.2 688.7L2245.1 669.0L2246.2 649.3L2246.8 629.7L2245.1 610.0L2247.9 590.3L2244.9 570.7L2247.4 551.0L2245.3 531.3L2245.5 511.7L2247.5 492.0L2244.8 472.4L2246.3 452.7L2250.3 433.0L2251.8 413.4L2244.2 393.7L2245.4 374.0L2248.9 354.4L2243.6 334.7L2250.5 315.0L2243.8 295.4L2247.4 275.7L2245.2 256.0L2241.3 236.4L2241.3 216.7" stroke="#ef5b4b"/></g>
</g>
<rect x="672.5" y="216.7" width="1221.9" height="1651.9" fill="none" stroke="#fff" stroke-width="5.2"/>
<path d="M669.9 1789.9h-10M669.9 1593.3h-10M669.9 1396.6h-10M669.9 1200.0h-10M669.9 1003.3h-10M669.9 806.7h-10M669.9 610.0h-10M669.9 413.4h-10M669.9 216.7h-10M783.6 1871.2v10M1005.7 1871.2v10M1227.9 1871.2v10M1450.1 1871.2v10M1672.2 1871.2v10M1894.4 1871.2v10" stroke="#fff" stroke-width="3" fill="none"/>
<rect x="2138.8" y="216.7" width="1221.8" height="1651.9" fill="none" stroke="#fff" stroke-width="5.2"/>
<path d="M2136.2 1789.9h-10M2136.2 1593.3h-10M2136.2 1396.6h-10M2136.2 1200.0h-10M2136.2 1003.3h-10M2136.2 806.7h-10M2136.2 610.0h-10M2136.2 413.4h-10M2136.2 216.7h-10M2249.9 1871.2v10M2472.0 1871.2v10M2694.2 1871.2v10M2916.3 1871.2v10M3138.5 1871.2v10M3360.6 1871.2v10" stroke="#fff" stroke-width="3" fill="none"/>
<rect x="7.8" y="759.5" width="430.2" height="896.8" rx="8" ry="8" fill="#000" stroke="#a3a3a3" stroke-width="3.2"/>
<path d="M18 791H108" stroke="#0b4f7d" stroke-width="10"/>
<path d="M18 850H108" stroke="#0c5483" stroke-width="10"/>
<path d="M18 909H108" stroke="#0d5889" stroke-width="10"/>
<path d="M18 968H108" stroke="#0e5d8f" stroke-width="10"/>
<path d="M18 1027H108" stroke="#106296" stroke-width="10"/>
<path d="M18 1086H108" stroke="#11679c" stroke-width="10"/>
<path d="M18 1145H108" stroke="#126ba2" stroke-width="10"/>
<path d="M18 1204H108" stroke="#1370a8" stroke-width="10"/>
<path d="M18 1263H108" stroke="#1475ae" stroke-width="10"/>
<path d="M18 1322H108" stroke="#1579b4" stroke-width="10"/>
<path d="M18 1381H108" stroke="#167eba" stroke-width="10"/>
<path d="M18 1440H108" stroke="#1883c1" stroke-width="10"/>
<path d="M18 1499H108" stroke="#1988c7" stroke-width="10"/>
<path d="M18 1558H108" stroke="#1a8ccd" stroke-width="10"/>
<path d="M18 1617H108" stroke="#1b91d3" stroke-width="10"/>
<rect x="3380.8" y="729.6" width="427.9" height="955.7" rx="8" ry="8" fill="#000" stroke="#a3a3a3" stroke-width="3.2"/>
<path d="M3391.3 761H3481.3" stroke="#480404" stroke-width="10"/>
<path d="M3391.3 820H3481.3" stroke="#530a09" stroke-width="10"/>
<path d="M3391.3 879H3481.3" stroke="#5e100d" stroke-width="10"/>
<path d="M3391.3 938H3481.3" stroke="#691512" stroke-width="10"/>
<path d="M3391.3 997H3481.3" stroke="#751b17" stroke-width="10"/>
<path d="M3391.3 1056H3481.3" stroke="#80211c" stroke-width="10"/>
<path d="M3391.3 1115H3481.3" stroke="#8b2720" stroke-width="10"/>
<path d="M3391.3 1174H3481.3" stroke="#962d25" stroke-width="10"/>
<path d="M3391.3 1233H3481.3" stroke="#a1322a" stroke-width="10"/>
<path d="M3391.3 1292H3481.3" stroke="#ac382f" stroke-width="10"/>
<path d="M3391.3 1351H3481.3" stroke="#b73e33" stroke-width="10"/>
<path d="M3391.3 1410H3481.3" stroke="#c24438" stroke-width="10"/>
<path d="M3391.3 1469H3481.3" stroke="#ce4a3d" stroke-width="10"/>
<path d="M3391.3 1528H3481.3" stroke="#d94f42" stroke-width="10"/>
<path d="M3391.3 1587H3481.3" stroke="#e45546" stroke-width="10"/>
<path d="M3391.3 1646H3481.3" stroke="#ef5b4b" stroke-width="10"/>
<path d="M40 1980H120" stroke="#fff" stroke-width="10" stroke-dasharray="37 16" fill="none"/>
<path d="M40 2040.3H120" stroke="#fff" stroke-width="10" stroke-dasharray="10 16.5" fill="none"/>
<rect x="40" y="2085" width="80" height="28.4" fill="#6a6d71" stroke="#8f9194" stroke-width="2.6"/>
<text><tspan x="595.41" y="1806.74" textLength="52.96" lengthAdjust="spacingAndGlyphs" font-family="'Liberation Sans', sans-serif" font-size="46" font-weight="normal" fill="#fff" stroke="#fff" stroke-width="0.92" stroke-linejoin="round">10</tspan></text>
<text><tspan x="595.41" y="1610.08" textLength="52.96" lengthAdjust="spacingAndGlyphs" font-family="'Liberation Sans', sans-serif" font-size="46" font-weight="normal" fill="#fff" stroke="#fff" stroke-width="0.92" stroke-linejoin="round">15</tspan></text>
<text><tspan x="595.41" y="1413.43" textLength="52.96" lengthAdjust="spacingAndGlyphs" font-family="'Liberation Sans', sans-serif" font-size="46" font-weight="normal" fill="#fff" stroke="#fff" stroke-width="0.92" stroke-linejoin="round">20</tspan></text>
<text><tspan x="595.41" y="1216.77" textLength="52.96" lengthAdjust="spacingAndGlyphs" font-family="'Liberation Sans', sans-serif" font-size="46" font-weight="normal" fill="#fff" stroke="#fff" stroke-width="0.92" stroke-linejoin="round">25</tspan></text>
<text><tspan x="595.41" y="1020.12" textLength="52.96" lengthAdjust="spacingAndGlyphs" font-family="'Liberation Sans', sans-serif" font-size="46" font-weight="normal" fill="#fff" stroke="#fff" stroke-width="0.92" stroke-linejoin="round">30</tspan></text>
<text><tspan x="595.41" y="823.46" textLength="52.96" lengthAdjust="spacingAndGlyphs" font-family="'Liberation Sans', sans-serif" font-size="46" font-weight="normal" fill="#fff" stroke="#fff" stroke-width="0.92" stroke-linejoin="round">35</tspan></text>
<text><tspan x="595.41" y="626.81" textLength="52.96" lengthAdjust="spacingAndGlyphs" font-family="'Liberation Sans', sans-serif" font-size="46" font-weight="normal" fill="#fff" stroke="#fff" stroke-width="0.92" stroke-linejoin="round">40</tspan></text>
<text><tspan x="595.41" y="430.15" textLength="52.96" lengthAdjust="spacingAndGlyphs" font-family="'Liberation Sans', sans-serif" font-size="46" font-weight="normal" fill="#fff" stroke="#fff" stroke-width="0.92" stroke-linejoin="round">45</tspan></text>
<text><tspan x="595.41" y="233.50" textLength="52.96" lengthAdjust="spacingAndGlyphs" font-family="'Liberation Sans', sans-serif" font-size="46" font-weight="normal" fill="#fff" stroke="#fff" stroke-width="0.92" stroke-linejoin="round">50</tspan></text>
<text><tspan x="770.83" y="1926.90" textLength="26.09" lengthAdjust="spacingAndGlyphs" font-family="'Liberation Sans', sans-serif" font-size="46" font-weight="normal" fill="#fff" stroke="#fff" stroke-width="0.92" stroke-linejoin="round">0</tspan></text>
<text><tspan x="979.44" y="1926.90" textLength="52.19" lengthAdjust="spacingAndGlyphs" font-family="'Liberation Sans', sans-serif" font-size="46" font-weight="normal" fill="#fff" stroke="#fff" stroke-width="0.92" stroke-linejoin="round">20</tspan></text>
<text><tspan x="1202.11" y="1926.90" textLength="52.19" lengthAdjust="spacingAndGlyphs" font-family="'Liberation Sans', sans-serif" font-size="46" font-weight="normal" fill="#fff" stroke="#fff" stroke-width="0.92" stroke-linejoin="round">40</tspan></text>
<text><tspan x="1423.77" y="1926.90" textLength="52.19" lengthAdjust="spacingAndGlyphs" font-family="'Liberation Sans', sans-serif" font-size="46" font-weight="normal" fill="#fff" stroke="#fff" stroke-width="0.92" stroke-linejoin="round">60</tspan></text>
<text><tspan x="1645.93" y="1926.90" textLength="52.19" lengthAdjust="spacingAndGlyphs" font-family="'Liberation Sans', sans-serif" font-size="46" font-weight="normal" fill="#fff" stroke="#fff" stroke-width="0.92" stroke-linejoin="round">80</tspan></text>
<text><tspan x="1854.54" y="1926.90" textLength="78.28" lengthAdjust="spacingAndGlyphs" font-family="'Liberation Sans', sans-serif" font-size="46" font-weight="normal" fill="#fff" stroke="#fff" stroke-width="0.92" stroke-linejoin="round">100</tspan></text>
<text><tspan x="2061.71" y="1806.74" textLength="52.96" lengthAdjust="spacingAndGlyphs" font-family="'Liberation Sans', sans-serif" font-size="46" font-weight="normal" fill="#fff" stroke="#fff" stroke-width="0.92" stroke-linejoin="round">10</tspan></text>
<text><tspan x="2061.71" y="1610.08" textLength="52.96" lengthAdjust="spacingAndGlyphs" font-family="'Liberation Sans', sans-serif" font-size="46" font-weight="normal" fill="#fff" stroke="#fff" stroke-width="0.92" stroke-linejoin="round">15</tspan></text>
<text><tspan x="2061.71" y="1413.43" textLength="52.96" lengthAdjust="spacingAndGlyphs" font-family="'Liberation Sans', sans-serif" font-size="46" font-weight="normal" fill="#fff" stroke="#fff" stroke-width="0.92" stroke-linejoin="round">20</tspan></text>
<text><tspan x="2061.71" y="1216.77" textLength="52.96" lengthAdjust="spacingAndGlyphs" font-family="'Liberation Sans', sans-serif" font-size="46" font-weight="normal" fill="#fff" stroke="#fff" stroke-width="0.92" stroke-linejoin="round">25</tspan></text>
<text><tspan x="2061.71" y="1020.12" textLength="52.96" lengthAdjust="spacingAndGlyphs" font-family="'Liberation Sans', sans-serif" font-size="46" font-weight="normal" fill="#fff" stroke="#fff" stroke-width="0.92" stroke-linejoin="round">30</tspan></text>
<text><tspan x="2061.71" y="823.46" textLength="52.96" lengthAdjust="spacingAndGlyphs" font-family="'Liberation Sans', sans-serif" font-size="46" font-weight="normal" fill="#fff" stroke="#fff" stroke-width="0.92" stroke-linejoin="round">35</tspan></text>
<text><tspan x="2061.71" y="626.81" textLength="52.96" lengthAdjust="spacingAndGlyphs" font-family="'Liberation Sans', sans-serif" font-size="46" font-weight="normal" fill="#fff" stroke="#fff" stroke-width="0.92" stroke-linejoin="round">40</tspan></text>
<text><tspan x="2061.71" y="430.15" textLength="52.96" lengthAdjust="spacingAndGlyphs" font-family="'Liberation Sans', sans-serif" font-size="46" font-weight="normal" fill="#fff" stroke="#fff" stroke-width="0.92" stroke-linejoin="round">45</tspan></text>
<text><tspan x="2061.71" y="233.50" textLength="52.96" lengthAdjust="spacingAndGlyphs" font-family="'Liberation Sans', sans-serif" font-size="46" font-weight="normal" fill="#fff" stroke="#fff" stroke-width="0.92" stroke-linejoin="round">50</tspan></text>
<text><tspan x="2237.12" y="1926.90" textLength="26.09" lengthAdjust="spacingAndGlyphs" font-family="'Liberation Sans', sans-serif" font-size="46" font-weight="normal" fill="#fff" stroke="#fff" stroke-width="0.92" stroke-linejoin="round">0</tspan></text>
<text><tspan x="2445.71" y="1926.90" textLength="52.19" lengthAdjust="spacingAndGlyphs" font-family="'Liberation Sans', sans-serif" font-size="46" font-weight="normal" fill="#fff" stroke="#fff" stroke-width="0.92" stroke-linejoin="round">20</tspan></text>
<text><tspan x="2668.37" y="1926.90" textLength="52.19" lengthAdjust="spacingAndGlyphs" font-family="'Liberation Sans', sans-serif" font-size="46" font-weight="normal" fill="#fff" stroke="#fff" stroke-width="0.92" stroke-linejoin="round">40</tspan></text>
<text><tspan x="2890.00" y="1926.90" textLength="52.19" lengthAdjust="spacingAndGlyphs" font-family="'Liberation Sans', sans-serif" font-size="46" font-weight="normal" fill="#fff" stroke="#fff" stroke-width="0.92" stroke-linejoin="round">60</tspan></text>
<text><tspan x="3112.15" y="1926.90" textLength="52.19" lengthAdjust="spacingAndGlyphs" font-family="'Liberation Sans', sans-serif" font-size="46" font-weight="normal" fill="#fff" stroke="#fff" stroke-width="0.92" stroke-linejoin="round">80</tspan></text>
<text><tspan x="3320.74" y="1926.90" textLength="78.28" lengthAdjust="spacingAndGlyphs" font-family="'Liberation Sans', sans-serif" font-size="46" font-weight="normal" fill="#fff" stroke="#fff" stroke-width="0.92" stroke-linejoin="round">100</tspan></text>
<text><tspan x="135.58" y="805.10" textLength="281.36" lengthAdjust="spacingAndGlyphs" font-family="'Liberation Sans', sans-serif" font-size="40" font-weight="normal" fill="#fff" stroke="#fff" stroke-width="0.8" stroke-linejoin="round">2024090302SR</tspan></text>
<text><tspan x="135.58" y="864.10" textLength="281.36" lengthAdjust="spacingAndGlyphs" font-family="'Liberation Sans', sans-serif" font-size="40" font-weight="normal" fill="#fff" stroke="#fff" stroke-width="0.8" stroke-linejoin="round">2024090305SR</tspan></text>
<text><tspan x="135.58" y="923.10" textLength="281.36" lengthAdjust="spacingAndGlyphs" font-family="'Liberation Sans', sans-serif" font-size="40" font-weight="normal" fill="#fff" stroke="#fff" stroke-width="0.8" stroke-linejoin="round">2024090308SR</tspan></text>
<text><tspan x="135.58" y="982.10" textLength="278.36" lengthAdjust="spacingAndGlyphs" font-family="'Liberation Sans', sans-serif" font-size="40" font-weight="normal" fill="#fff" stroke="#fff" stroke-width="0.8" stroke-linejoin="round">2024090311SR</tspan></text>
<text><tspan x="135.58" y="1041.10" textLength="281.36" lengthAdjust="spacingAndGlyphs" font-family="'Liberation Sans', sans-serif" font-size="40" font-weight="normal" fill="#fff" stroke="#fff" stroke-width="0.8" stroke-linejoin="round">2024090314SR</tspan></text>
<text><tspan x="135.58" y="1100.10" textLength="281.36" lengthAdjust="spacingAndGlyphs" font-family="'Liberation Sans', sans-serif" font-size="40" font-weight="normal" fill="#fff" stroke="#fff" stroke-width="0.8" stroke-linejoin="round">2024090317SR</tspan></text>
<text><tspan x="135.58" y="1159.10" textLength="281.36" lengthAdjust="spacingAndGlyphs" font-family="'Liberation Sans', sans-serif" font-size="40" font-weight="normal" fill="#fff" stroke="#fff" stroke-width="0.8" stroke-linejoin="round">2024090320SR</tspan></text>
<text><tspan x="135.58" y="1218.10" textLength="281.36" lengthAdjust="spacingAndGlyphs" font-family="'Liberation Sans', sans-serif" font-size="40" font-weight="normal" fill="#fff" stroke="#fff" stroke-width="0.8" stroke-linejoin="round">2024090323SR</tspan></text>
<text><tspan x="135.58" y="1277.10" textLength="281.36" lengthAdjust="spacingAndGlyphs" font-family="'Liberation Sans', sans-serif" font-size="40" font-weight="normal" fill="#fff" stroke="#fff" stroke-width="0.8" stroke-linejoin="round">2024090326SR</tspan></text>
<text><tspan x="135.58" y="1336.10" textLength="281.36" lengthAdjust="spacingAndGlyphs" font-family="'Liberation Sans', sans-serif" font-size="40" font-weight="normal" fill="#fff" stroke="#fff" stroke-width="0.8" stroke-linejoin="round">2024090329SR</tspan></text>
<text><tspan x="135.58" y="1395.10" textLength="281.36" lengthAdjust="spacingAndGlyphs" font-family="'Liberation Sans', sans-serif" font-size="40" font-weight="normal" fill="#fff" stroke="#fff" stroke-width="0.8" stroke-linejoin="round">2024090332SR</tspan></text>
<text><tspan x="135.58" y="1454.10" textLength="281.36" lengthAdjust="spacingAndGlyphs" font-family="'Liberation Sans', sans-serif" font-size="40" font-weight="normal" fill="#fff" stroke="#fff" stroke-width="0.8" stroke-linejoin="round">2024090335SR</tspan></text>
<text><tspan x="135.58" y="1513.10" textLength="281.36" lengthAdjust="spacingAndGlyphs" font-family="'Liberation Sans', sans-serif" font-size="40" font-weight="normal" fill="#fff" stroke="#fff" stroke-width="0.8" stroke-linejoin="round">2024090338SR</tspan></text>
<text><tspan x="135.58" y="1572.10" textLength="281.36" lengthAdjust="spacingAndGlyphs" font-family="'Liberation Sans', sans-serif" font-size="40" font-weight="normal" fill="#fff" stroke="#fff" stroke-width="0.8" stroke-linejoin="round">2024090341SR</tspan></text>
<text><tspan x="135.58" y="1631.10" textLength="281.36" lengthAdjust="spacingAndGlyphs" font-family="'Liberation Sans', sans-serif" font-size="40" font-weight="normal" fill="#fff" stroke="#fff" stroke-width="0.8" stroke-linejoin="round">2024090344SR</tspan></text>
<text><tspan x="3508.88" y="775.10" textLength="279.13" lengthAdjust="spacingAndGlyphs" font-family="'Liberation Sans', sans-serif" font-size="40" font-weight="normal" fill="#fff" stroke="#fff" stroke-width="0.8" stroke-linejoin="round">2024090301SS</tspan></text>
<text><tspan x="3508.88" y="834.10" textLength="279.13" lengthAdjust="spacingAndGlyphs" font-family="'Liberation Sans', sans-serif" font-size="40" font-weight="normal" fill="#fff" stroke="#fff" stroke-width="0.8" stroke-linejoin="round">2024090304SS</tspan></text>
<text><tspan x="3508.88" y="893.10" textLength="279.13" lengthAdjust="spacingAndGlyphs" font-family="'Liberation Sans', sans-serif" font-size="40" font-weight="normal" fill="#fff" stroke="#fff" stroke-width="0.8" stroke-linejoin="round">2024090307SS</tspan></text>
<text><tspan x="3508.88" y="952.10" textLength="279.13" lengthAdjust="spacingAndGlyphs" font-family="'Liberation Sans', sans-serif" font-size="40" font-weight="normal" fill="#fff" stroke="#fff" stroke-width="0.8" stroke-linejoin="round">2024090310SS</tspan></text>
<text><tspan x="3508.88" y="1011.10" textLength="279.13" lengthAdjust="spacingAndGlyphs" font-family="'Liberation Sans', sans-serif" font-size="40" font-weight="normal" fill="#fff" stroke="#fff" stroke-width="0.8" stroke-linejoin="round">2024090313SS</tspan></text>
<text><tspan x="3508.88" y="1070.10" textLength="279.13" lengthAdjust="spacingAndGlyphs" font-family="'Liberation Sans', sans-serif" font-size="40" font-weight="normal" fill="#fff" stroke="#fff" stroke-width="0.8" stroke-linejoin="round">2024090316SS</tspan></text>
<text><tspan x="3508.88" y="1129.10" textLength="279.13" lengthAdjust="spacingAndGlyphs" font-family="'Liberation Sans', sans-serif" font-size="40" font-weight="normal" fill="#fff" stroke="#fff" stroke-width="0.8" stroke-linejoin="round">2024090319SS</tspan></text>
<text><tspan x="3508.88" y="1188.10" textLength="279.13" lengthAdjust="spacingAndGlyphs" font-family="'Liberation Sans', sans-serif" font-size="40" font-weight="normal" fill="#fff" stroke="#fff" stroke-width="0.8" stroke-linejoin="round">2024090322SS</tspan></text>
<text><tspan x="3508.88" y="1247.10" textLength="279.13" lengthAdjust="spacingAndGlyphs" font-family="'Liberation Sans', sans-serif" font-size="40" font-weight="normal" fill="#fff" stroke="#fff" stroke-width="0.8" stroke-linejoin="round">2024090325SS</tspan></text>
<text><tspan x="3508.88" y="1306.10" textLength="279.13" lengthAdjust="spacingAndGlyphs" font-family="'Liberation Sans', sans-serif" font-size="40" font-weight="normal" fill="#fff" stroke="#fff" stroke-width="0.8" stroke-linejoin="round">2024090328SS</tspan></text>
<text><tspan x="3508.88" y="1365.10" textLength="279.13" lengthAdjust="spacingAndGlyphs" font-family="'Liberation Sans', sans-serif" font-size="40" font-weight="normal" fill="#fff" stroke="#fff" stroke-width="0.8" stroke-linejoin="round">2024090331SS</tspan></text>
<text><tspan x="3508.88" y="1424.10" textLength="279.13" lengthAdjust="spacingAndGlyphs" font-family="'Liberation Sans', sans-serif" font-size="40" font-weight="normal" fill="#fff" stroke="#fff" stroke-width="0.8" stroke-linejoin="round">2024090334SS</tspan></text>
<text><tspan x="3508.88" y="1483.10" textLength="279.13" lengthAdjust="spacingAndGlyphs" font-family="'Liberation Sans', sans-serif" font-size="40" font-weight="normal" fill="#fff" stroke="#fff" stroke-width="0.8" stroke-linejoin="round">2024090337SS</tspan></text>
<text><tspan x="3508.88" y="1542.10" textLength="279.13" lengthAdjust="spacingAndGlyphs" font-family="'Liberation Sans', sans-serif" font-size="40" font-weight="normal" fill="#fff" stroke="#fff" stroke-width="0.8" stroke-linejoin="round">2024090340SS</tspan></text>
<text><tspan x="3508.88" y="1601.10" textLength="279.13" lengthAdjust="spacingAndGlyphs" font-family="'Liberation Sans', sans-serif" font-size="40" font-weight="normal" fill="#fff" stroke="#fff" stroke-width="0.8" stroke-linejoin="round">2024090343SS</tspan></text>
<text><tspan x="3508.88" y="1660.10" textLength="279.13" lengthAdjust="spacingAndGlyphs" font-family="'Liberation Sans', sans-serif" font-size="40" font-weight="normal" fill="#fff" stroke="#fff" stroke-width="0.8" stroke-linejoin="round">2024090346SS</tspan></text>
<text><tspan x="152.10" y="1993.40" textLength="348.42" lengthAdjust="spacingAndGlyphs" font-family="'Liberation Sans', sans-serif" font-size="40" font-weight="normal" fill="#fff" stroke="#fff" stroke-width="0.8" stroke-linejoin="round">Mean Tropopause</tspan></text>
<text><tspan x="152.08" y="2053.00" textLength="384.64" lengthAdjust="spacingAndGlyphs" font-family="'Liberation Sans', sans-serif" font-size="40" font-weight="normal" fill="#fff" stroke="#fff" stroke-width="0.8" stroke-linejoin="round">Median Tropopause</tspan></text>
<text><tspan x="154.13" y="2112.90" textLength="365.78" lengthAdjust="spacingAndGlyphs" font-family="'Liberation Sans', sans-serif" font-size="40" font-weight="normal" fill="#fff" stroke="#fff" stroke-width="0.8" stroke-linejoin="round">Tropopause Range</tspan></text>
<text><tspan x="797.59" y="101.40" textLength="216.76" lengthAdjust="spacingAndGlyphs" font-family="'Liberation Sans', sans-serif" font-size="80" font-weight="bold" fill="#fff" stroke="#fff" stroke-width="0.64" stroke-linejoin="round">SAGE</tspan> <tspan x="1043.79" y="101.60" textLength="131.49" lengthAdjust="spacingAndGlyphs" font-family="'DejaVu Sans Mono', monospace" font-size="75.5" font-weight="bold" fill="#fff" stroke="#fff" stroke-width="1.2" stroke-linejoin="round">III</tspan><tspan x="1177.01" y="112.30" textLength="43.53" lengthAdjust="spacingAndGlyphs" font-family="'Liberation Sans', sans-serif" font-size="92" font-weight="normal" fill="#fff" stroke="#fff" stroke-width="0.6" stroke-linejoin="round">/</tspan><tspan x="1223.75" y="101.60" textLength="44.16" lengthAdjust="spacingAndGlyphs" font-family="'DejaVu Sans Mono', monospace" font-size="75.5" font-weight="bold" fill="#fff" stroke="#fff" stroke-width="1.2" stroke-linejoin="round">I</tspan><tspan x="1268.38" y="101.40" textLength="99.37" lengthAdjust="spacingAndGlyphs" font-family="'Liberation Sans', sans-serif" font-size="80" font-weight="bold" fill="#fff" stroke="#fff" stroke-width="1.6" stroke-linejoin="round">SS</tspan> <tspan x="1394.89" y="101.40" textLength="273.22" lengthAdjust="spacingAndGlyphs" font-family="'Liberation Sans', sans-serif" font-size="80" font-weight="bold" fill="#fff" stroke="#fff" stroke-width="0.64" stroke-linejoin="round">520nm</tspan> <tspan x="1691.47" y="101.40" textLength="307.30" lengthAdjust="spacingAndGlyphs" font-family="'Liberation Sans', sans-serif" font-size="80" font-weight="bold" fill="#fff" stroke="#fff" stroke-width="0.64" stroke-linejoin="round">Aerosol</tspan><tspan x="2000.53" y="101.40" textLength="34.47" lengthAdjust="spacingAndGlyphs" font-family="'Liberation Sans', sans-serif" font-size="80" font-weight="bold" fill="#fff" stroke="#fff" stroke-width="0.64" stroke-linejoin="round">-</tspan><tspan x="2039.33" y="101.40" textLength="78.31" lengthAdjust="spacingAndGlyphs" font-family="'Liberation Sans', sans-serif" font-size="80" font-weight="bold" fill="#fff" stroke="#fff" stroke-width="0.64" stroke-linejoin="round">to</tspan><tspan x="2119.66" y="101.40" textLength="33.24" lengthAdjust="spacingAndGlyphs" font-family="'Liberation Sans', sans-serif" font-size="80" font-weight="bold" fill="#fff" stroke="#fff" stroke-width="0.64" stroke-linejoin="round">-</tspan><tspan x="2155.44" y="101.40" textLength="395.42" lengthAdjust="spacingAndGlyphs" font-family="'Liberation Sans', sans-serif" font-size="80" font-weight="bold" fill="#fff" stroke="#fff" stroke-width="0.64" stroke-linejoin="round">Molecular</tspan> <tspan x="2581.03" y="101.40" textLength="410.39" lengthAdjust="spacingAndGlyphs" font-family="'Liberation Sans', sans-serif" font-size="80" font-weight="bold" fill="#fff" stroke="#fff" stroke-width="0.64" stroke-linejoin="round">Extinction</tspan> <tspan x="3018.85" y="101.40" textLength="215.90" lengthAdjust="spacingAndGlyphs" font-family="'Liberation Sans', sans-serif" font-size="80" font-weight="bold" fill="#fff" stroke="#fff" stroke-width="0.64" stroke-linejoin="round">Ratio</tspan></text>
<text><tspan x="1621.67" y="188.00" textLength="100.58" lengthAdjust="spacingAndGlyphs" font-family="'Liberation Sans', sans-serif" font-size="80" font-weight="bold" fill="#fff" stroke="#fff" stroke-width="0.64" stroke-linejoin="round">03</tspan> <tspan x="1749.44" y="188.00" textLength="432.41" lengthAdjust="spacingAndGlyphs" font-family="'Liberation Sans', sans-serif" font-size="80" font-weight="bold" fill="#fff" stroke="#fff" stroke-width="0.64" stroke-linejoin="round">September</tspan> <tspan x="2215.89" y="188.00" textLength="191.22" lengthAdjust="spacingAndGlyphs" font-family="'Liberation Sans', sans-serif" font-size="80" font-weight="bold" fill="#fff" stroke="#fff" stroke-width="0.64" stroke-linejoin="round">2024</tspan></text>
<text><tspan x="1159.25" y="196.00" textLength="248.23" lengthAdjust="spacingAndGlyphs" font-family="'Liberation Sans', sans-serif" font-size="66" font-weight="bold" fill="#fff" stroke="#fff" stroke-width="0.53" stroke-linejoin="round">Sunrise</tspan></text>
<text><tspan x="2638.26" y="196.00" textLength="220.45" lengthAdjust="spacingAndGlyphs" font-family="'Liberation Sans', sans-serif" font-size="66" font-weight="bold" fill="#fff" stroke="#fff" stroke-width="0.53" stroke-linejoin="round">Sunset</tspan></text>
<text><tspan x="733.24" y="2002.00" textLength="218.49" lengthAdjust="spacingAndGlyphs" font-family="'Liberation Sans', sans-serif" font-size="60" font-weight="normal" fill="#fff" stroke="#fff" stroke-width="1.2" stroke-linejoin="round">Aerosol</tspan><tspan x="951.28" y="2002.00" textLength="20.33" lengthAdjust="spacingAndGlyphs" font-family="'Liberation Sans', sans-serif" font-size="60" font-weight="normal" fill="#fff" stroke="#fff" stroke-width="1.2" stroke-linejoin="round">-</tspan><tspan x="974.46" y="2002.00" textLength="69.89" lengthAdjust="spacingAndGlyphs" font-family="'Liberation Sans', sans-serif" font-size="60" font-weight="normal" fill="#fff" stroke="#fff" stroke-width="1.2" stroke-linejoin="round">To</tspan><tspan x="1045.58" y="2002.00" textLength="20.33" lengthAdjust="spacingAndGlyphs" font-family="'Liberation Sans', sans-serif" font-size="60" font-weight="normal" fill="#fff" stroke="#fff" stroke-width="1.2" stroke-linejoin="round">-</tspan><tspan x="1068.99" y="2002.00" textLength="284.13" lengthAdjust="spacingAndGlyphs" font-family="'Liberation Sans', sans-serif" font-size="60" font-weight="normal" fill="#fff" stroke="#fff" stroke-width="1.2" stroke-linejoin="round">Molecular</tspan> <tspan x="1372.23" y="2002.00" textLength="288.34" lengthAdjust="spacingAndGlyphs" font-family="'Liberation Sans', sans-serif" font-size="60" font-weight="normal" fill="#fff" stroke="#fff" stroke-width="1.2" stroke-linejoin="round">Extinction</tspan> <tspan x="1679.56" y="2002.00" textLength="154.09" lengthAdjust="spacingAndGlyphs" font-family="'Liberation Sans', sans-serif" font-size="60" font-weight="normal" fill="#fff" stroke="#fff" stroke-width="1.2" stroke-linejoin="round">Ratio</tspan></text>
<text transform="rotate(-90)"><tspan x="-1231.52" y="558.20" textLength="227.63" lengthAdjust="spacingAndGlyphs" font-family="'Liberation Sans', sans-serif" font-size="60" font-weight="normal" fill="#fff" stroke="#fff" stroke-width="1.2" stroke-linejoin="round">Altitude</tspan> <tspan x="-987.50" y="558.20" textLength="136.60" lengthAdjust="spacingAndGlyphs" font-family="'Liberation Sans', sans-serif" font-size="60" font-weight="normal" fill="#fff" stroke="#fff" stroke-width="1.2" stroke-linejoin="round">[km]</tspan></text>
<text><tspan x="2199.54" y="2002.00" textLength="218.49" lengthAdjust="spacingAndGlyphs" font-family="'Liberation Sans', sans-serif" font-size="60" font-weight="normal" fill="#fff" stroke="#fff" stroke-width="1.2" stroke-linejoin="round">Aerosol</tspan><tspan x="2417.58" y="2002.00" textLength="20.33" lengthAdjust="spacingAndGlyphs" font-family="'Liberation Sans', sans-serif" font-size="60" font-weight="normal" fill="#fff" stroke="#fff" stroke-width="1.2" stroke-linejoin="round">-</tspan><tspan x="2440.76" y="2002.00" textLength="69.89" lengthAdjust="spacingAndGlyphs" font-family="'Liberation Sans', sans-serif" font-size="60" font-weight="normal" fill="#fff" stroke="#fff" stroke-width="1.2" stroke-linejoin="round">To</tspan><tspan x="2511.88" y="2002.00" textLength="20.33" lengthAdjust="spacingAndGlyphs" font-family="'Liberation Sans', sans-serif" font-size="60" font-weight="normal" fill="#fff" stroke="#fff" stroke-width="1.2" stroke-linejoin="round">-</tspan><tspan x="2535.29" y="2002.00" textLength="284.13" lengthAdjust="spacingAndGlyphs" font-family="'Liberation Sans', sans-serif" font-size="60" font-weight="normal" fill="#fff" stroke="#fff" stroke-width="1.2" stroke-linejoin="round">Molecular</tspan> <tspan x="2838.53" y="2002.00" textLength="288.34" lengthAdjust="spacingAndGlyphs" font-family="'Liberation Sans', sans-serif" font-size="60" font-weight="normal" fill="#fff" stroke="#fff" stroke-width="1.2" stroke-linejoin="round">Extinction</tspan> <tspan x="3145.86" y="2002.00" textLength="154.09" lengthAdjust="spacingAndGlyphs" font-family="'Liberation Sans', sans-serif" font-size="60" font-weight="normal" fill="#fff" stroke="#fff" stroke-width="1.2" stroke-linejoin="round">Ratio</tspan></text>
<text transform="rotate(-90)"><tspan x="-1231.52" y="2024.50" textLength="227.63" lengthAdjust="spacingAndGlyphs" font-family="'Liberation Sans', sans-serif" font-size="60" font-weight="normal" fill="#fff" stroke="#fff" stroke-width="1.2" stroke-linejoin="round">Altitude</tspan> <tspan x="-987.50" y="2024.50" textLength="136.60" lengthAdjust="spacingAndGlyphs" font-family="'Liberation Sans', sans-serif" font-size="60" font-weight="normal" fill="#fff" stroke="#fff" stroke-width="1.2" stroke-linejoin="round">[km]</tspan></text>
<text><tspan x="3268.70" y="2038.90" textLength="86.51" lengthAdjust="spacingAndGlyphs" font-family="'Liberation Sans', sans-serif" font-size="34" font-weight="normal" fill="#8a8a8a" stroke="#8a8a8a" stroke-width="0.68" stroke-linejoin="round">SAGE</tspan> <tspan x="3366.94" y="2038.90" textLength="47.21" lengthAdjust="spacingAndGlyphs" font-family="'DejaVu Sans Mono', monospace" font-size="34" font-weight="normal" fill="#8a8a8a" stroke="#8a8a8a" stroke-width="0.9" stroke-linejoin="round">III</tspan><tspan x="3415.77" y="2044.00" textLength="12.21" lengthAdjust="spacingAndGlyphs" font-family="'Liberation Sans', sans-serif" font-size="41" font-weight="normal" fill="#8a8a8a" stroke="#8a8a8a" stroke-width="0.5" stroke-linejoin="round">/</tspan><tspan x="3433.54" y="2038.90" textLength="14.16" lengthAdjust="spacingAndGlyphs" font-family="'DejaVu Sans Mono', monospace" font-size="34" font-weight="normal" fill="#8a8a8a" stroke="#8a8a8a" stroke-width="0.9" stroke-linejoin="round">I</tspan><tspan x="3450.45" y="2038.90" textLength="38.14" lengthAdjust="spacingAndGlyphs" font-family="'Liberation Sans', sans-serif" font-size="34" font-weight="normal" fill="#8a8a8a" stroke="#8a8a8a" stroke-width="0.68" stroke-linejoin="round">SS</tspan> <tspan x="3501.51" y="2038.90" textLength="117.49" lengthAdjust="spacingAndGlyphs" font-family="'Liberation Sans', sans-serif" font-size="34" font-weight="normal" fill="#8a8a8a" stroke="#8a8a8a" stroke-width="0.68" stroke-linejoin="round">Mission</tspan> <tspan x="3629.30" y="2037.60" textLength="8.14" lengthAdjust="spacingAndGlyphs" font-family="'Liberation Sans', sans-serif" font-size="33" font-weight="normal" fill="#8a8a8a">|</tspan> <tspan x="3647.49" y="2038.90" textLength="89.87" lengthAdjust="spacingAndGlyphs" font-family="'Liberation Sans', sans-serif" font-size="34" font-weight="normal" fill="#8a8a8a" stroke="#8a8a8a" stroke-width="0.68" stroke-linejoin="round">NASA</tspan> <tspan x="3750.90" y="2038.90" textLength="84.01" lengthAdjust="spacingAndGlyphs" font-family="'Liberation Sans', sans-serif" font-size="34" font-weight="normal" fill="#8a8a8a" stroke="#8a8a8a" stroke-width="0.68" stroke-linejoin="round">LaRC</tspan></text>
<text><tspan x="3312.96" y="2076.20" textLength="523.07" lengthAdjust="spacingAndGlyphs" font-family="'Liberation Sans', sans-serif" font-size="34" font-weight="normal" fill="#8a8a8a" stroke="#8a8a8a" stroke-width="0.68" stroke-linejoin="round">Preparer: Kevin R. Leavor (AMA)</tspan></text>
<text><tspan x="3389.73" y="2113.60" textLength="445.45" lengthAdjust="spacingAndGlyphs" font-family="'Liberation Sans', sans-serif" font-size="34" font-weight="normal" fill="#8a8a8a" stroke="#8a8a8a" stroke-width="0.68" stroke-linejoin="round">Generated 2025-07-17 22:25</tspan></text>
<text><tspan x="3534.47" y="2150.60" textLength="300.82" lengthAdjust="spacingAndGlyphs" font-family="'Liberation Sans', sans-serif" font-size="34" font-weight="normal" fill="#8a8a8a" stroke="#8a8a8a" stroke-width="0.68" stroke-linejoin="round">Data Version: 6.0.0</tspan></text>
<g id="patch">
<path d="M3494.2 215.7V55.0A37.0 37.0 0 0 1 3531.2 18.0H3792.8A37.0 37.0 0 0 1 3829.8 55.0V215.7A167.8 176.0 0 0 1 3494.2 215.7Z" fill="#e8594b"/>
<path d="M3501.2 215.7V55.0A30.0 30.0 0 0 1 3531.2 25.0H3792.8A30.0 30.0 0 0 1 3822.8 55.0V215.7A160.8 169.0 0 0 1 3501.2 215.7Z" fill="#0e5a8f"/>
<circle cx="3662.4" cy="220.1" r="133" fill="#0b5187" stroke="#cfd2df" stroke-width="15.6"/>
<defs><clipPath id="lgDisc"><circle cx="3662.4" cy="220.1" r="125.3"/></clipPath><clipPath id="lgEarth"><circle cx="3222" cy="570" r="565"/></clipPath><clipPath id="lgRobe"><circle cx="3662.4" cy="220.1" r="129"/></clipPath></defs>
<g clip-path="url(#lgDisc)">
<circle cx="3222" cy="570" r="582" fill="#1a6fab"/>
<circle cx="3222" cy="570" r="565" fill="#0d5a92" stroke="#c9e8f8" stroke-width="1.2"/>
<g clip-path="url(#lgEarth)" fill="#5ba46c">
<path d="M3555 110L3600 118L3640 170L3668 215L3668 222L3663 224L3665.6 233.4L3663 244L3662.9 251.8L3666 259L3670.8 268.8L3666 266L3661.6 259.6L3655.1 261L3645.9 268.8L3642 278L3644.6 291.1L3652.4 302.9L3659 304.2L3662.9 297.7L3664.2 287.2L3668.2 291.1L3670.8 301.6L3678.7 308.2L3685.2 312.1L3691.8 308.2L3695.7 299L3702.3 292.4L3708.8 289.8L3716 288L3745 336L3700 352L3695 340L3694.4 317.3L3686.5 317.3L3678.7 314.7L3659 310.8L3639.3 312.1L3626.2 304.2L3615 296L3609 289L3600 288L3600 130Z"/>
<path d="M3606 286.5L3610 288.5L3621 301L3627.5 310L3624.5 309.5L3613 297.5L3606 290Z"/>
</g>
<path d="M3620 200L3626 202L3630 206L3633 205L3638 207L3642 205L3647 207L3652 208L3650 213L3647 216L3645 222L3641 220L3640 214L3637 213L3635 218L3631 214L3628 209L3624 211L3622 206Z" fill="#0d5a92"/>
</g>
<circle cx="3637.3" cy="144.6" r="23.5" fill="#c7cad5"/>
<circle cx="3639.2" cy="143.2" r="21.2" fill="#f1f2f7"/>
<g fill="#c3c6d1"><path d="M3630 130l5-3 5 2 2 5-3 4 4 3 5-2 4 4-1 7-5 4-6-1-3-5-5 1-4-4 1-6-3-4z"/><circle cx="3648" cy="136" r="3.2"/><circle cx="3628" cy="148" r="3"/><circle cx="3641" cy="158" r="2.6"/></g>
<circle cx="3735.2" cy="280.7" r="23.5" fill="#fee1a2"/>
<path d="M3728 258.3A23.5 23.5 0 0 0 3730 303.6A30 30 0 0 1 3728 258.3Z" fill="#d9d3c8"/>
<path d="M3715.2 190.8L3653.8 159M3715.2 190.8L3646.9 166M3715.2 190.8L3669.7 226.2M3715.2 190.8L3675.9 233.8M3715.2 190.8L3722.8 258M3715.2 190.8L3733.9 257.3" stroke="#eef7fc" stroke-width="1.25" fill="none"/>
<path d="M3697.6 173.6L3723.6 148.7M3699.7 175.8L3725.7 150.9M3701.9 178.1L3727.9 153.2M3704.0 180.3L3730.0 155.4" stroke="#c5c8d3" stroke-width="2.38" fill="none"/>
<path d="M3726.8 203.1L3752.8 178.2M3729.1 205.5L3755.1 180.6M3731.3 207.8L3757.3 182.9M3733.6 210.2L3759.6 185.3" stroke="#c5c8d3" stroke-width="2.54" fill="none"/>
<path d="M3707.6 161.8L3749 196.3" stroke="#e3cfb2" stroke-width="2.0"/>
<path d="M3715.5 176.5l10.5-9.5M3721.5 182.5l11-10M3718.5 170.5l9.5 9.5M3712 183l6-6M3726 187.5l5-5M3729 169.5l4.5 4.5" stroke="#d9dce6" stroke-width="2.3" fill="none"/>
<path d="M3717 178l8-7M3724 180l6-5.5" stroke="#ecd2ae" stroke-width="1.2" fill="none"/>
<path d="M3693.8 107.7L3695.1760000000004 114.92399999999999L3702.4 116.3L3695.1760000000004 117.676L3693.8 124.89999999999999L3692.424 117.676L3685.2000000000003 116.3L3692.424 114.92399999999999Z" fill="#fff"/>
<circle cx="3693.8" cy="116.3" r="2.1" fill="#ffd56a"/>
<path d="M3680 122.3L3680.864 126.836L3685.4 127.7L3680.864 128.564L3680 133.1L3679.136 128.564L3674.6 127.7L3679.136 126.836Z" fill="#fff"/>
<path d="M3703.5 127.4L3704.156 130.844L3707.6 131.5L3704.156 132.156L3703.5 135.6L3702.844 132.156L3699.4 131.5L3702.844 130.844Z" fill="#fff"/>
<path d="M3536 163L3523 170L3517.5 180L3513 207L3506.5 224L3500.5 236L3503 243L3512 240.5L3522 235.6L3531 226.5L3537.2 215L3541 205L3545 194Z" fill="#cf4a3b"/>
<path d="M3521 186L3516 212L3508 233L3505 240L3514 236L3524 228L3531 214L3527 200Z" fill="#8d231a"/>
<path d="M3518 182L3514.5 207L3508 224L3502.5 236.5" stroke="#ea6a57" stroke-width="1.8" fill="none"/>
<g clip-path="url(#lgRobe)">
<path d="M3536 163L3545.3 153.3L3556 149L3566 147L3590 160L3600 165.5L3607.5 176L3608.8 193L3604.8 215L3604.2 233L3605.5 280L3607.6 345L3560 345L3541 240L3544 215L3547 198L3532 192Z" fill="#cf4a3b"/>
<path d="M3565 226L3553 262" stroke="#8d231a" stroke-width="4.6" stroke-linecap="round" fill="none"/>
<path d="M3573 228L3564 300" stroke="#8d231a" stroke-width="4.8" stroke-linecap="round" fill="none"/>
<path d="M3582.5 231L3580 314" stroke="#8d231a" stroke-width="4.4" stroke-linecap="round" fill="none"/>
<path d="M3591.5 234L3593.5 326" stroke="#8d231a" stroke-width="4.4" stroke-linecap="round" fill="none"/>
<path d="M3600 236L3604 336" stroke="#8d231a" stroke-width="3.4" stroke-linecap="round" fill="none"/>
<path d="M3569.5 227L3559 284" stroke="#ea6a57" stroke-width="2.8" stroke-linecap="round" fill="none"/>
<path d="M3578 230L3572.5 308" stroke="#ea6a57" stroke-width="3.0" stroke-linecap="round" fill="none"/>
<path d="M3587 233L3587 320" stroke="#ea6a57" stroke-width="3.0" stroke-linecap="round" fill="none"/>
<path d="M3596 235L3599 330" stroke="#ea6a57" stroke-width="2.8" stroke-linecap="round" fill="none"/>
<path d="M3547 200L3543 236L3560 290L3552 240Z" fill="#8d231a"/>
</g>
<path d="M3549 184L3556 192L3566 191L3573 197L3583 193L3590 196L3599 191L3606 193" stroke="#8d231a" stroke-width="2.2" fill="none" stroke-linejoin="round"/>
<path d="M3546 156L3557 152L3566 158L3574 170L3580 184" stroke="#ea6a57" stroke-width="2" fill="none"/>
<path d="M3562 196L3560 206M3575 199L3576 212M3590 198L3592 214" stroke="#8d231a" stroke-width="2" fill="none"/>
<path d="M3555.5 204.5L3570 211.5L3587 217.5M3602 222L3604.5 222" stroke="#8a4a22" stroke-width="4.4" fill="none"/>
<path d="M3555.5 203L3570 210L3587 216" stroke="#d39a52" stroke-width="0.9" fill="none"/>
<path d="M3594.6 213.6l7.8 4.6v9.4l-7.8 4.6-7.8-4.6v-9.4z" fill="#6d2c12" stroke="#cf9045" stroke-width="1.3"/>
<text x="3594.6" y="226.6" font-family="'Liberation Serif', serif" font-size="10" font-style="italic" font-weight="bold" fill="#cf9045" text-anchor="middle">S</text>
<path d="M3600 165.9L3617 172.2L3613.5 180L3607.5 187L3602 177Z" fill="#7c1d15"/>
<path d="M3610 171.5L3614.5 173.2L3610 186L3606.5 184Z" fill="#c2583b"/>
<ellipse cx="3611.8" cy="184.5" rx="4.4" ry="7.6" fill="#dfa465"/>
<path d="M3559.6 145.3L3563 141L3567 138.5L3573 134.5L3580 131L3587 128.8L3593.7 128.2L3600 129.8L3605 133.5L3607 138L3606 146L3603 152L3600.5 158L3600.5 166L3601 175L3598 183L3593.7 189.2L3588 188L3584 185.5L3580 178L3576 168L3571 160L3565 153Z" fill="#fbfbfd"/>
<path d="M3583.5 138L3590 134L3598 134.2L3604 139L3605.5 147L3603.5 152L3599.5 155.5L3592 156L3587 153L3583.5 147.5L3581.5 142Z" fill="#c98a4e"/>
<path d="M3589 136.5L3596 135.5L3601.5 139L3602 143L3595 142L3590 145L3586.5 141Z" fill="#eed2ad"/>
<path d="M3594 143.5L3603.5 146.5M3597 148.5L3602 149.5" stroke="#5f3216" stroke-width="1.3" fill="none"/>
<path d="M3588.5 156L3596 153.2L3601.5 156L3600.5 163L3591.5 163Z" fill="#fbfbfd"/>
<path d="M3585 138L3581 146L3584 152" stroke="#f4e6d6" stroke-width="1.6" fill="none"/>
<path d="M3534.5 122.8L3541.7 174L3547 215L3552.4 252.7L3560.5 267L3563.2 294" stroke="#a35a28" stroke-width="4.8" fill="none" stroke-linejoin="round"/>
<path d="M3535.3 122.8L3542.5 174L3547.8 215L3553.2 252.5L3561.2 267L3563.8 294" stroke="#d9a056" stroke-width="1.6" fill="none" stroke-linejoin="round"/>
<circle cx="3532.7" cy="112.9" r="10.3" fill="#cdd0dd" stroke="#f4f5fa" stroke-width="1.4"/>
<path d="M3529 180L3533 175.5L3540 174.5L3547 177L3549 184L3548 191L3545 196L3539 196.5L3533 193L3529.5 187Z" fill="#dfa465"/>
<path d="M3537 181L3545 183M3536 186L3545 188.5M3536.5 191L3544 193" stroke="#a8652f" stroke-width="1" fill="none"/>
<text font-size="40.5" font-family="'Liberation Serif', serif" font-weight="bold" fill="#fff"><tspan x="3528" y="59" textLength="108" lengthAdjust="spacingAndGlyphs">SAGE</tspan> <tspan x="3651.7" y="59" textLength="49.5" lengthAdjust="spacingAndGlyphs">III</tspan> <tspan x="3733" y="59" textLength="60.5" lengthAdjust="spacingAndGlyphs">ISS</tspan></text>
<circle cx="3715.6" cy="45.6" r="4.2" fill="#fff"/>
<text x="3527.6" y="71.5" font-size="7.8" textLength="173.2" lengthAdjust="spacingAndGlyphs" font-family="'Liberation Sans', sans-serif" fill="#f2f5fa">Stratospheric Aerosol and Gas Experiment III</text>
<text x="3737" y="71.5" font-size="7.8" textLength="52.4" lengthAdjust="spacingAndGlyphs" font-family="'Liberation Sans', sans-serif" fill="#f2f5fa">International</text>
<text x="3733.6" y="82.8" font-size="7.8" textLength="59.6" lengthAdjust="spacingAndGlyphs" font-family="'Liberation Sans', sans-serif" fill="#f2f5fa">Space Station</text>
<defs><path id="lgArc" d="M3504.6 220.1A157.8 157.8 0 0 0 3820.2000000000003 220.1"/></defs>
<text font-family="'Liberation Sans', sans-serif" font-weight="bold" font-size="14.6" fill="#fff"><textPath href="#lgArc" startOffset="39.7" textLength="38.2" lengthAdjust="spacingAndGlyphs">BALL</textPath> <textPath href="#lgArc" startOffset="89.0" text-anchor="middle">•</textPath> <textPath href="#lgArc" startOffset="99.0" textLength="268.4" lengthAdjust="spacingAndGlyphs">NASA LANGLEY RESEARCH CENTER</textPath> <textPath href="#lgArc" startOffset="378.9" text-anchor="middle">•</textPath> <textPath href="#lgArc" startOffset="389.4" textLength="37.8" lengthAdjust="spacingAndGlyphs">TAS-I</textPath> <textPath href="#lgArc" startOffset="439.8" text-anchor="middle">•</textPath> <textPath href="#lgArc" startOffset="450.0" textLength="31.1" lengthAdjust="spacingAndGlyphs">ESA</textPath></text>
</g>
</svg>
</body></html>
